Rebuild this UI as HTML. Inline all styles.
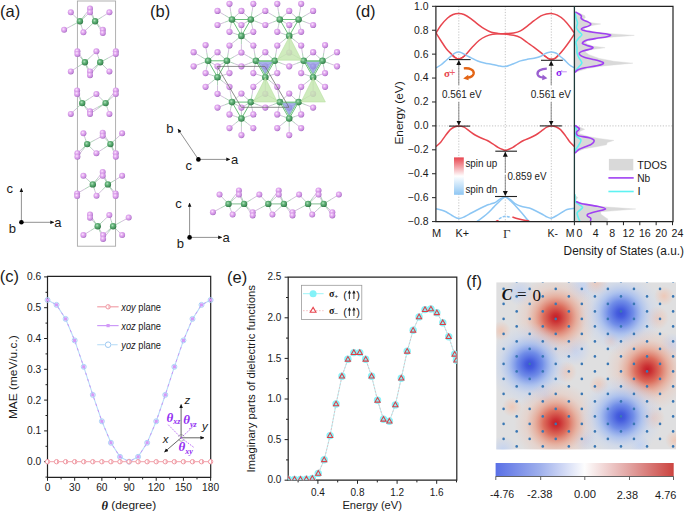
<!DOCTYPE html>
<html><head><meta charset="utf-8"><style>
html,body{margin:0;padding:0;background:#fff;}
svg{display:block;font-family:"Liberation Sans", sans-serif;}
</style></head><body>
<svg width="685" height="513" viewBox="0 0 685 513">
<rect width="685" height="513" fill="#fff"/>

<defs>
<radialGradient id="pk" cx="0.4" cy="0.38" r="0.62">
 <stop offset="0" stop-color="#fbeafd"/><stop offset="0.35" stop-color="#e6b0f2"/><stop offset="0.8" stop-color="#c98ade"/><stop offset="1" stop-color="#a46cc0"/>
</radialGradient>
<radialGradient id="gr" cx="0.4" cy="0.38" r="0.62">
 <stop offset="0" stop-color="#b2e2be"/><stop offset="0.4" stop-color="#63b379"/><stop offset="0.85" stop-color="#3f8f57"/><stop offset="1" stop-color="#307444"/>
</radialGradient>
<marker id="ah" viewBox="0 0 10 10" refX="9" refY="5" markerWidth="4" markerHeight="4" orient="auto-start-reverse" markerUnits="userSpaceOnUse">
 <path d="M0,0.5 L10,5 L0,9.5 Z" fill="#111"/>
</marker>
<marker id="ah2" viewBox="0 0 10 10" refX="9" refY="5" markerWidth="5" markerHeight="6" orient="auto-start-reverse" markerUnits="userSpaceOnUse">
 <path d="M0,0 L10,5 L0,10 Z" fill="#111"/>
</marker>
<linearGradient id="spin" x1="0" y1="0" x2="0" y2="1">
 <stop offset="0" stop-color="#e8454f"/><stop offset="0.5" stop-color="#ffffff"/><stop offset="1" stop-color="#8ec6f3"/>
</linearGradient>
<linearGradient id="cbar" x1="0" y1="0" x2="1" y2="0">
 <stop offset="0" stop-color="#5a70e6"/><stop offset="0.25" stop-color="#9fb0ec"/><stop offset="0.5" stop-color="#fdfdfd"/><stop offset="0.75" stop-color="#e2a4a2"/><stop offset="1" stop-color="#cc4440"/>
</linearGradient>
<radialGradient id="hr"><stop offset="0" stop-color="#c41c28"/><stop offset="0.1" stop-color="#cb3234"/><stop offset="0.3" stop-color="#dc6a58" stop-opacity="0.96"/><stop offset="0.5" stop-color="#e8a08a" stop-opacity="0.75"/><stop offset="0.72" stop-color="#ecc4b4" stop-opacity="0.42"/><stop offset="1" stop-color="#ecc8b8" stop-opacity="0"/></radialGradient>
<radialGradient id="hb"><stop offset="0" stop-color="#3c50d8"/><stop offset="0.1" stop-color="#465ede"/><stop offset="0.3" stop-color="#6c8ae8" stop-opacity="0.96"/><stop offset="0.5" stop-color="#9cb8f2" stop-opacity="0.75"/><stop offset="0.72" stop-color="#c0d2f2" stop-opacity="0.42"/><stop offset="1" stop-color="#c8d8f2" stop-opacity="0"/></radialGradient>
<radialGradient id="hr2"><stop offset="0" stop-color="#efc6b4" stop-opacity="0.9"/><stop offset="1" stop-color="#efc6b4" stop-opacity="0"/></radialGradient>
<radialGradient id="hb2"><stop offset="0" stop-color="#c2d2f2" stop-opacity="0.9"/><stop offset="1" stop-color="#c2d2f2" stop-opacity="0"/></radialGradient>
<clipPath id="clipD"><rect x="436" y="6.3" width="138.6" height="215.3"/></clipPath>
<clipPath id="clipE"><rect x="288.2" y="277.2" width="168.6" height="203"/></clipPath>
<clipPath id="clipF"><rect x="496.2" y="282.2" width="179.9" height="167.4"/></clipPath>
</defs>
<rect x="77.4" y="1" width="38.2" height="245.2" fill="none" stroke="#a8a8a8" stroke-width="0.9"/>
<g stroke-width="0.8"><line x1="79.9" y1="21.3" x2="75.35" y2="16.8" stroke="#9cc6a8"/><line x1="75.35" y1="16.8" x2="70.8" y2="12.3" stroke="#c6b0d2"/><line x1="79.9" y1="21.3" x2="84.95" y2="14.95" stroke="#9cc6a8"/><line x1="84.95" y1="14.95" x2="90" y2="8.6" stroke="#c6b0d2"/><line x1="79.9" y1="21.3" x2="84.95" y2="16.8" stroke="#9cc6a8"/><line x1="84.95" y1="16.8" x2="90" y2="12.3" stroke="#c6b0d2"/><line x1="79.9" y1="21.3" x2="72" y2="25.55" stroke="#9cc6a8"/><line x1="72" y1="25.55" x2="64.1" y2="29.8" stroke="#c6b0d2"/><line x1="79.9" y1="21.3" x2="81.65" y2="26.8" stroke="#9cc6a8"/><line x1="81.65" y1="26.8" x2="83.4" y2="32.3" stroke="#c6b0d2"/><line x1="95.1" y1="21.3" x2="92.55" y2="14.95" stroke="#9cc6a8"/><line x1="92.55" y1="14.95" x2="90" y2="8.6" stroke="#c6b0d2"/><line x1="95.1" y1="21.3" x2="92.55" y2="16.8" stroke="#9cc6a8"/><line x1="92.55" y1="16.8" x2="90" y2="12.3" stroke="#c6b0d2"/><line x1="95.1" y1="21.3" x2="102.25" y2="16.8" stroke="#9cc6a8"/><line x1="102.25" y1="16.8" x2="109.4" y2="12.3" stroke="#c6b0d2"/><line x1="95.1" y1="21.3" x2="89.25" y2="26.8" stroke="#9cc6a8"/><line x1="89.25" y1="26.8" x2="83.4" y2="32.3" stroke="#c6b0d2"/><line x1="95.1" y1="21.3" x2="98.95" y2="25.55" stroke="#9cc6a8"/><line x1="98.95" y1="25.55" x2="102.8" y2="29.8" stroke="#c6b0d2"/><line x1="95.1" y1="21.3" x2="98.95" y2="27.15" stroke="#9cc6a8"/><line x1="98.95" y1="27.15" x2="102.8" y2="33" stroke="#c6b0d2"/></g>
<g stroke-width="0.8"><line x1="84.9" y1="62.3" x2="81.15" y2="56.8" stroke="#9cc6a8"/><line x1="81.15" y1="56.8" x2="77.4" y2="51.3" stroke="#c6b0d2"/><line x1="84.9" y1="62.3" x2="81.15" y2="58.1" stroke="#9cc6a8"/><line x1="81.15" y1="58.1" x2="77.4" y2="53.9" stroke="#c6b0d2"/><line x1="84.9" y1="62.3" x2="90.65" y2="56.8" stroke="#9cc6a8"/><line x1="90.65" y1="56.8" x2="96.4" y2="51.3" stroke="#c6b0d2"/><line x1="84.9" y1="62.3" x2="77.85" y2="66.85" stroke="#9cc6a8"/><line x1="77.85" y1="66.85" x2="70.8" y2="71.4" stroke="#c6b0d2"/><line x1="84.9" y1="62.3" x2="87.45" y2="66.85" stroke="#9cc6a8"/><line x1="87.45" y1="66.85" x2="90" y2="71.4" stroke="#c6b0d2"/><line x1="84.9" y1="62.3" x2="87.45" y2="68.75" stroke="#9cc6a8"/><line x1="87.45" y1="68.75" x2="90" y2="75.2" stroke="#c6b0d2"/><line x1="100.2" y1="62.3" x2="98.3" y2="56.8" stroke="#9cc6a8"/><line x1="98.3" y1="56.8" x2="96.4" y2="51.3" stroke="#c6b0d2"/><line x1="100.2" y1="62.3" x2="108" y2="58.1" stroke="#9cc6a8"/><line x1="108" y1="58.1" x2="115.8" y2="53.9" stroke="#c6b0d2"/><line x1="100.2" y1="62.3" x2="95.1" y2="66.85" stroke="#9cc6a8"/><line x1="95.1" y1="66.85" x2="90" y2="71.4" stroke="#c6b0d2"/><line x1="100.2" y1="62.3" x2="95.1" y2="68.75" stroke="#9cc6a8"/><line x1="95.1" y1="68.75" x2="90" y2="75.2" stroke="#c6b0d2"/><line x1="100.2" y1="62.3" x2="104.8" y2="66.85" stroke="#9cc6a8"/><line x1="104.8" y1="66.85" x2="109.4" y2="71.4" stroke="#c6b0d2"/></g>
<g stroke-width="0.8"><line x1="82.2" y1="103.1" x2="79.65" y2="96.75" stroke="#9cc6a8"/><line x1="79.65" y1="96.75" x2="77.1" y2="90.4" stroke="#c6b0d2"/><line x1="82.2" y1="103.1" x2="79.65" y2="98.55" stroke="#9cc6a8"/><line x1="79.65" y1="98.55" x2="77.1" y2="94" stroke="#c6b0d2"/><line x1="82.2" y1="103.1" x2="89.3" y2="98.55" stroke="#9cc6a8"/><line x1="89.3" y1="98.55" x2="96.4" y2="94" stroke="#c6b0d2"/><line x1="82.2" y1="103.1" x2="76.5" y2="108.5" stroke="#9cc6a8"/><line x1="76.5" y1="108.5" x2="70.8" y2="113.9" stroke="#c6b0d2"/><line x1="82.2" y1="103.1" x2="86.1" y2="107.2" stroke="#9cc6a8"/><line x1="86.1" y1="107.2" x2="90" y2="111.3" stroke="#c6b0d2"/><line x1="82.2" y1="103.1" x2="86.1" y2="108.5" stroke="#9cc6a8"/><line x1="86.1" y1="108.5" x2="90" y2="113.9" stroke="#c6b0d2"/><line x1="105.6" y1="103.1" x2="101" y2="98.55" stroke="#9cc6a8"/><line x1="101" y1="98.55" x2="96.4" y2="94" stroke="#c6b0d2"/><line x1="105.6" y1="103.1" x2="110.7" y2="96.75" stroke="#9cc6a8"/><line x1="110.7" y1="96.75" x2="115.8" y2="90.4" stroke="#c6b0d2"/><line x1="105.6" y1="103.1" x2="110.7" y2="98.55" stroke="#9cc6a8"/><line x1="110.7" y1="98.55" x2="115.8" y2="94" stroke="#c6b0d2"/><line x1="105.6" y1="103.1" x2="97.8" y2="107.2" stroke="#9cc6a8"/><line x1="97.8" y1="107.2" x2="90" y2="111.3" stroke="#c6b0d2"/><line x1="105.6" y1="103.1" x2="97.8" y2="108.5" stroke="#9cc6a8"/><line x1="97.8" y1="108.5" x2="90" y2="113.9" stroke="#c6b0d2"/><line x1="105.6" y1="103.1" x2="107.5" y2="108.5" stroke="#9cc6a8"/><line x1="107.5" y1="108.5" x2="109.4" y2="113.9" stroke="#c6b0d2"/></g>
<g stroke-width="0.8"><line x1="87.2" y1="144.1" x2="85.3" y2="138.7" stroke="#9cc6a8"/><line x1="85.3" y1="138.7" x2="83.4" y2="133.3" stroke="#c6b0d2"/><line x1="87.2" y1="144.1" x2="94.95" y2="139.95" stroke="#9cc6a8"/><line x1="94.95" y1="139.95" x2="102.7" y2="135.8" stroke="#c6b0d2"/><line x1="87.2" y1="144.1" x2="82.3" y2="148.65" stroke="#9cc6a8"/><line x1="82.3" y1="148.65" x2="77.4" y2="153.2" stroke="#c6b0d2"/><line x1="87.2" y1="144.1" x2="82.3" y2="150.45" stroke="#9cc6a8"/><line x1="82.3" y1="150.45" x2="77.4" y2="156.8" stroke="#c6b0d2"/><line x1="87.2" y1="144.1" x2="91.8" y2="148.65" stroke="#9cc6a8"/><line x1="91.8" y1="148.65" x2="96.4" y2="153.2" stroke="#c6b0d2"/><line x1="110.4" y1="144.1" x2="106.55" y2="138.4" stroke="#9cc6a8"/><line x1="106.55" y1="138.4" x2="102.7" y2="132.7" stroke="#c6b0d2"/><line x1="110.4" y1="144.1" x2="106.55" y2="139.95" stroke="#9cc6a8"/><line x1="106.55" y1="139.95" x2="102.7" y2="135.8" stroke="#c6b0d2"/><line x1="110.4" y1="144.1" x2="116.25" y2="138.7" stroke="#9cc6a8"/><line x1="116.25" y1="138.7" x2="122.1" y2="133.3" stroke="#c6b0d2"/><line x1="110.4" y1="144.1" x2="103.4" y2="148.65" stroke="#9cc6a8"/><line x1="103.4" y1="148.65" x2="96.4" y2="153.2" stroke="#c6b0d2"/><line x1="110.4" y1="144.1" x2="113.1" y2="148.65" stroke="#9cc6a8"/><line x1="113.1" y1="148.65" x2="115.8" y2="153.2" stroke="#c6b0d2"/><line x1="110.4" y1="144.1" x2="113.1" y2="150.45" stroke="#9cc6a8"/><line x1="113.1" y1="150.45" x2="115.8" y2="156.8" stroke="#c6b0d2"/></g>
<g stroke-width="0.8"><line x1="92.8" y1="184.4" x2="88.1" y2="180.1" stroke="#9cc6a8"/><line x1="88.1" y1="180.1" x2="83.4" y2="175.8" stroke="#c6b0d2"/><line x1="92.8" y1="184.4" x2="97.75" y2="178.2" stroke="#9cc6a8"/><line x1="97.75" y1="178.2" x2="102.7" y2="172" stroke="#c6b0d2"/><line x1="92.8" y1="184.4" x2="97.75" y2="180.1" stroke="#9cc6a8"/><line x1="97.75" y1="180.1" x2="102.7" y2="175.8" stroke="#c6b0d2"/><line x1="92.8" y1="184.4" x2="84.95" y2="188.95" stroke="#9cc6a8"/><line x1="84.95" y1="188.95" x2="77.1" y2="193.5" stroke="#c6b0d2"/><line x1="92.8" y1="184.4" x2="94.65" y2="190.1" stroke="#9cc6a8"/><line x1="94.65" y1="190.1" x2="96.5" y2="195.8" stroke="#c6b0d2"/><line x1="107.9" y1="184.4" x2="105.3" y2="178.2" stroke="#9cc6a8"/><line x1="105.3" y1="178.2" x2="102.7" y2="172" stroke="#c6b0d2"/><line x1="107.9" y1="184.4" x2="105.3" y2="180.1" stroke="#9cc6a8"/><line x1="105.3" y1="180.1" x2="102.7" y2="175.8" stroke="#c6b0d2"/><line x1="107.9" y1="184.4" x2="115" y2="180.1" stroke="#9cc6a8"/><line x1="115" y1="180.1" x2="122.1" y2="175.8" stroke="#c6b0d2"/><line x1="107.9" y1="184.4" x2="102.2" y2="190.1" stroke="#9cc6a8"/><line x1="102.2" y1="190.1" x2="96.5" y2="195.8" stroke="#c6b0d2"/><line x1="107.9" y1="184.4" x2="111.75" y2="188.95" stroke="#9cc6a8"/><line x1="111.75" y1="188.95" x2="115.6" y2="193.5" stroke="#c6b0d2"/><line x1="107.9" y1="184.4" x2="111.75" y2="190.25" stroke="#9cc6a8"/><line x1="111.75" y1="190.25" x2="115.6" y2="196.1" stroke="#c6b0d2"/></g>
<g stroke-width="0.8"><line x1="97.7" y1="226.2" x2="93.85" y2="220.4" stroke="#9cc6a8"/><line x1="93.85" y1="220.4" x2="90" y2="214.6" stroke="#c6b0d2"/><line x1="97.7" y1="226.2" x2="93.85" y2="221.95" stroke="#9cc6a8"/><line x1="93.85" y1="221.95" x2="90" y2="217.7" stroke="#c6b0d2"/><line x1="97.7" y1="226.2" x2="103.5" y2="220.65" stroke="#9cc6a8"/><line x1="103.5" y1="220.65" x2="109.3" y2="215.1" stroke="#c6b0d2"/><line x1="97.7" y1="226.2" x2="90.55" y2="230.65" stroke="#9cc6a8"/><line x1="90.55" y1="230.65" x2="83.4" y2="235.1" stroke="#c6b0d2"/><line x1="97.7" y1="226.2" x2="100.4" y2="230.65" stroke="#9cc6a8"/><line x1="100.4" y1="230.65" x2="103.1" y2="235.1" stroke="#c6b0d2"/><line x1="97.7" y1="226.2" x2="100.4" y2="232.55" stroke="#9cc6a8"/><line x1="100.4" y1="232.55" x2="103.1" y2="238.9" stroke="#c6b0d2"/><line x1="113.1" y1="226.2" x2="111.2" y2="220.65" stroke="#9cc6a8"/><line x1="111.2" y1="220.65" x2="109.3" y2="215.1" stroke="#c6b0d2"/><line x1="113.1" y1="226.2" x2="120.9" y2="221.9" stroke="#9cc6a8"/><line x1="120.9" y1="221.9" x2="128.7" y2="217.6" stroke="#c6b0d2"/><line x1="113.1" y1="226.2" x2="108.1" y2="230.65" stroke="#9cc6a8"/><line x1="108.1" y1="230.65" x2="103.1" y2="235.1" stroke="#c6b0d2"/><line x1="113.1" y1="226.2" x2="108.1" y2="232.55" stroke="#9cc6a8"/><line x1="108.1" y1="232.55" x2="103.1" y2="238.9" stroke="#c6b0d2"/><line x1="113.1" y1="226.2" x2="117.6" y2="230.65" stroke="#9cc6a8"/><line x1="117.6" y1="230.65" x2="122.1" y2="235.1" stroke="#c6b0d2"/></g>
<circle cx="90" cy="8.6" r="3" fill="url(#pk)"/><circle cx="70.8" cy="12.3" r="3" fill="url(#pk)"/><circle cx="90" cy="12.3" r="3" fill="url(#pk)"/><circle cx="109.4" cy="12.3" r="3" fill="url(#pk)"/><circle cx="79.9" cy="21.3" r="3.2" fill="url(#gr)"/><circle cx="95.1" cy="21.3" r="3.2" fill="url(#gr)"/><circle cx="64.1" cy="29.8" r="3" fill="url(#pk)"/><circle cx="102.8" cy="29.8" r="3" fill="url(#pk)"/><circle cx="83.4" cy="32.3" r="3" fill="url(#pk)"/><circle cx="102.8" cy="33" r="3" fill="url(#pk)"/>
<circle cx="77.4" cy="51.3" r="3" fill="url(#pk)"/><circle cx="96.4" cy="51.3" r="3" fill="url(#pk)"/><circle cx="115.8" cy="51.3" r="3" fill="url(#pk)"/><circle cx="77.4" cy="53.9" r="3" fill="url(#pk)"/><circle cx="115.8" cy="53.9" r="3" fill="url(#pk)"/><circle cx="84.9" cy="62.3" r="3.2" fill="url(#gr)"/><circle cx="100.2" cy="62.3" r="3.2" fill="url(#gr)"/><circle cx="70.8" cy="71.4" r="3" fill="url(#pk)"/><circle cx="90" cy="71.4" r="3" fill="url(#pk)"/><circle cx="109.4" cy="71.4" r="3" fill="url(#pk)"/><circle cx="90" cy="75.2" r="3" fill="url(#pk)"/>
<circle cx="77.1" cy="90.4" r="3" fill="url(#pk)"/><circle cx="115.8" cy="90.4" r="3" fill="url(#pk)"/><circle cx="77.1" cy="94" r="3" fill="url(#pk)"/><circle cx="96.4" cy="94" r="3" fill="url(#pk)"/><circle cx="115.8" cy="94" r="3" fill="url(#pk)"/><circle cx="82.2" cy="103.1" r="3.2" fill="url(#gr)"/><circle cx="105.6" cy="103.1" r="3.2" fill="url(#gr)"/><circle cx="90" cy="111.3" r="3" fill="url(#pk)"/><circle cx="70.8" cy="113.9" r="3" fill="url(#pk)"/><circle cx="90" cy="113.9" r="3" fill="url(#pk)"/><circle cx="109.4" cy="113.9" r="3" fill="url(#pk)"/>
<circle cx="102.7" cy="132.7" r="3" fill="url(#pk)"/><circle cx="83.4" cy="133.3" r="3" fill="url(#pk)"/><circle cx="122.1" cy="133.3" r="3" fill="url(#pk)"/><circle cx="102.7" cy="135.8" r="3" fill="url(#pk)"/><circle cx="87.2" cy="144.1" r="3.2" fill="url(#gr)"/><circle cx="110.4" cy="144.1" r="3.2" fill="url(#gr)"/><circle cx="77.4" cy="153.2" r="3" fill="url(#pk)"/><circle cx="96.4" cy="153.2" r="3" fill="url(#pk)"/><circle cx="115.8" cy="153.2" r="3" fill="url(#pk)"/><circle cx="77.4" cy="156.8" r="3" fill="url(#pk)"/><circle cx="115.8" cy="156.8" r="3" fill="url(#pk)"/>
<circle cx="102.7" cy="172" r="3" fill="url(#pk)"/><circle cx="83.4" cy="175.8" r="3" fill="url(#pk)"/><circle cx="102.7" cy="175.8" r="3" fill="url(#pk)"/><circle cx="122.1" cy="175.8" r="3" fill="url(#pk)"/><circle cx="92.8" cy="184.4" r="3.2" fill="url(#gr)"/><circle cx="107.9" cy="184.4" r="3.2" fill="url(#gr)"/><circle cx="77.1" cy="193.5" r="3" fill="url(#pk)"/><circle cx="115.6" cy="193.5" r="3" fill="url(#pk)"/><circle cx="96.5" cy="195.8" r="3" fill="url(#pk)"/><circle cx="77.1" cy="196.1" r="3" fill="url(#pk)"/><circle cx="115.6" cy="196.1" r="3" fill="url(#pk)"/>
<circle cx="90" cy="214.6" r="3" fill="url(#pk)"/><circle cx="109.3" cy="215.1" r="3" fill="url(#pk)"/><circle cx="128.7" cy="217.6" r="3" fill="url(#pk)"/><circle cx="90" cy="217.7" r="3" fill="url(#pk)"/><circle cx="97.7" cy="226.2" r="3.2" fill="url(#gr)"/><circle cx="113.1" cy="226.2" r="3.2" fill="url(#gr)"/><circle cx="83.4" cy="235.1" r="3" fill="url(#pk)"/><circle cx="103.1" cy="235.1" r="3" fill="url(#pk)"/><circle cx="122.1" cy="235.1" r="3" fill="url(#pk)"/><circle cx="103.1" cy="238.9" r="3" fill="url(#pk)"/>
<g stroke-width="0.8"><line x1="232" y1="19.5" x2="230.73" y2="11.65" stroke="#9cc6a8"/><line x1="230.73" y1="11.65" x2="229.45" y2="3.8" stroke="#c6b0d2"/><line x1="232" y1="19.5" x2="224.75" y2="15.2" stroke="#9cc6a8"/><line x1="224.75" y1="15.2" x2="217.5" y2="10.9" stroke="#c6b0d2"/><line x1="232" y1="19.5" x2="224.75" y2="22.25" stroke="#9cc6a8"/><line x1="224.75" y1="22.25" x2="217.5" y2="25" stroke="#c6b0d2"/><line x1="232" y1="19.5" x2="230.73" y2="25.65" stroke="#9cc6a8"/><line x1="230.73" y1="25.65" x2="229.45" y2="31.8" stroke="#c6b0d2"/><line x1="232" y1="19.5" x2="236.7" y2="15.2" stroke="#9cc6a8"/><line x1="236.7" y1="15.2" x2="241.4" y2="10.9" stroke="#c6b0d2"/><line x1="232" y1="19.5" x2="236.7" y2="22.25" stroke="#9cc6a8"/><line x1="236.7" y1="22.25" x2="241.4" y2="25" stroke="#c6b0d2"/><line x1="250.8" y1="19.5" x2="252.07" y2="11.65" stroke="#9cc6a8"/><line x1="252.07" y1="11.65" x2="253.35" y2="3.8" stroke="#c6b0d2"/><line x1="250.8" y1="19.5" x2="258.05" y2="15.2" stroke="#9cc6a8"/><line x1="258.05" y1="15.2" x2="265.3" y2="10.9" stroke="#c6b0d2"/><line x1="250.8" y1="19.5" x2="258.05" y2="22.25" stroke="#9cc6a8"/><line x1="258.05" y1="22.25" x2="265.3" y2="25" stroke="#c6b0d2"/><line x1="250.8" y1="19.5" x2="252.07" y2="25.65" stroke="#9cc6a8"/><line x1="252.07" y1="25.65" x2="253.35" y2="31.8" stroke="#c6b0d2"/><line x1="250.8" y1="19.5" x2="246.1" y2="15.2" stroke="#9cc6a8"/><line x1="246.1" y1="15.2" x2="241.4" y2="10.9" stroke="#c6b0d2"/><line x1="250.8" y1="19.5" x2="246.1" y2="22.25" stroke="#9cc6a8"/><line x1="246.1" y1="22.25" x2="241.4" y2="25" stroke="#c6b0d2"/><line x1="241.4" y1="35.9" x2="235.43" y2="33.85" stroke="#9cc6a8"/><line x1="235.43" y1="33.85" x2="229.45" y2="31.8" stroke="#c6b0d2"/><line x1="241.4" y1="35.9" x2="247.38" y2="33.85" stroke="#9cc6a8"/><line x1="247.38" y1="33.85" x2="253.35" y2="31.8" stroke="#c6b0d2"/><line x1="241.4" y1="35.9" x2="235.43" y2="40.7" stroke="#9cc6a8"/><line x1="235.43" y1="40.7" x2="229.45" y2="45.5" stroke="#c6b0d2"/><line x1="241.4" y1="35.9" x2="247.38" y2="40.7" stroke="#9cc6a8"/><line x1="247.38" y1="40.7" x2="253.35" y2="45.5" stroke="#c6b0d2"/><line x1="241.4" y1="35.9" x2="241.4" y2="44.2" stroke="#9cc6a8"/><line x1="241.4" y1="44.2" x2="241.4" y2="52.5" stroke="#c6b0d2"/><line x1="241.4" y1="35.9" x2="241.4" y2="30.45" stroke="#9cc6a8"/><line x1="241.4" y1="30.45" x2="241.4" y2="25" stroke="#c6b0d2"/><line x1="279.8" y1="19.5" x2="278.52" y2="11.65" stroke="#9cc6a8"/><line x1="278.52" y1="11.65" x2="277.25" y2="3.8" stroke="#c6b0d2"/><line x1="279.8" y1="19.5" x2="272.55" y2="15.2" stroke="#9cc6a8"/><line x1="272.55" y1="15.2" x2="265.3" y2="10.9" stroke="#c6b0d2"/><line x1="279.8" y1="19.5" x2="272.55" y2="22.25" stroke="#9cc6a8"/><line x1="272.55" y1="22.25" x2="265.3" y2="25" stroke="#c6b0d2"/><line x1="279.8" y1="19.5" x2="278.52" y2="25.65" stroke="#9cc6a8"/><line x1="278.52" y1="25.65" x2="277.25" y2="31.8" stroke="#c6b0d2"/><line x1="279.8" y1="19.5" x2="284.5" y2="15.2" stroke="#9cc6a8"/><line x1="284.5" y1="15.2" x2="289.2" y2="10.9" stroke="#c6b0d2"/><line x1="279.8" y1="19.5" x2="284.5" y2="22.25" stroke="#9cc6a8"/><line x1="284.5" y1="22.25" x2="289.2" y2="25" stroke="#c6b0d2"/><line x1="298.6" y1="19.5" x2="299.88" y2="11.65" stroke="#9cc6a8"/><line x1="299.88" y1="11.65" x2="301.15" y2="3.8" stroke="#c6b0d2"/><line x1="298.6" y1="19.5" x2="305.85" y2="15.2" stroke="#9cc6a8"/><line x1="305.85" y1="15.2" x2="313.1" y2="10.9" stroke="#c6b0d2"/><line x1="298.6" y1="19.5" x2="305.85" y2="22.25" stroke="#9cc6a8"/><line x1="305.85" y1="22.25" x2="313.1" y2="25" stroke="#c6b0d2"/><line x1="298.6" y1="19.5" x2="299.88" y2="25.65" stroke="#9cc6a8"/><line x1="299.88" y1="25.65" x2="301.15" y2="31.8" stroke="#c6b0d2"/><line x1="298.6" y1="19.5" x2="293.9" y2="15.2" stroke="#9cc6a8"/><line x1="293.9" y1="15.2" x2="289.2" y2="10.9" stroke="#c6b0d2"/><line x1="298.6" y1="19.5" x2="293.9" y2="22.25" stroke="#9cc6a8"/><line x1="293.9" y1="22.25" x2="289.2" y2="25" stroke="#c6b0d2"/><line x1="289.2" y1="35.9" x2="283.23" y2="33.85" stroke="#9cc6a8"/><line x1="283.23" y1="33.85" x2="277.25" y2="31.8" stroke="#c6b0d2"/><line x1="289.2" y1="35.9" x2="295.17" y2="33.85" stroke="#9cc6a8"/><line x1="295.17" y1="33.85" x2="301.15" y2="31.8" stroke="#c6b0d2"/><line x1="289.2" y1="35.9" x2="283.23" y2="40.7" stroke="#9cc6a8"/><line x1="283.23" y1="40.7" x2="277.25" y2="45.5" stroke="#c6b0d2"/><line x1="289.2" y1="35.9" x2="295.17" y2="40.7" stroke="#9cc6a8"/><line x1="295.17" y1="40.7" x2="301.15" y2="45.5" stroke="#c6b0d2"/><line x1="289.2" y1="35.9" x2="289.2" y2="44.2" stroke="#9cc6a8"/><line x1="289.2" y1="44.2" x2="289.2" y2="52.5" stroke="#c6b0d2"/><line x1="289.2" y1="35.9" x2="289.2" y2="30.45" stroke="#9cc6a8"/><line x1="289.2" y1="30.45" x2="289.2" y2="25" stroke="#c6b0d2"/><line x1="208.1" y1="60.8" x2="206.82" y2="52.95" stroke="#9cc6a8"/><line x1="206.82" y1="52.95" x2="205.55" y2="45.1" stroke="#c6b0d2"/><line x1="208.1" y1="60.8" x2="200.85" y2="56.5" stroke="#9cc6a8"/><line x1="200.85" y1="56.5" x2="193.6" y2="52.2" stroke="#c6b0d2"/><line x1="208.1" y1="60.8" x2="200.85" y2="63.55" stroke="#9cc6a8"/><line x1="200.85" y1="63.55" x2="193.6" y2="66.3" stroke="#c6b0d2"/><line x1="208.1" y1="60.8" x2="206.82" y2="66.95" stroke="#9cc6a8"/><line x1="206.82" y1="66.95" x2="205.55" y2="73.1" stroke="#c6b0d2"/><line x1="208.1" y1="60.8" x2="212.8" y2="56.5" stroke="#9cc6a8"/><line x1="212.8" y1="56.5" x2="217.5" y2="52.2" stroke="#c6b0d2"/><line x1="208.1" y1="60.8" x2="212.8" y2="63.55" stroke="#9cc6a8"/><line x1="212.8" y1="63.55" x2="217.5" y2="66.3" stroke="#c6b0d2"/><line x1="226.9" y1="60.8" x2="228.18" y2="53.15" stroke="#9cc6a8"/><line x1="228.18" y1="53.15" x2="229.45" y2="45.5" stroke="#c6b0d2"/><line x1="226.9" y1="60.8" x2="234.15" y2="56.65" stroke="#9cc6a8"/><line x1="234.15" y1="56.65" x2="241.4" y2="52.5" stroke="#c6b0d2"/><line x1="226.9" y1="60.8" x2="234.15" y2="63.55" stroke="#9cc6a8"/><line x1="234.15" y1="63.55" x2="241.4" y2="66.3" stroke="#c6b0d2"/><line x1="226.9" y1="60.8" x2="228.18" y2="66.95" stroke="#9cc6a8"/><line x1="228.18" y1="66.95" x2="229.45" y2="73.1" stroke="#c6b0d2"/><line x1="226.9" y1="60.8" x2="222.2" y2="56.5" stroke="#9cc6a8"/><line x1="222.2" y1="56.5" x2="217.5" y2="52.2" stroke="#c6b0d2"/><line x1="226.9" y1="60.8" x2="222.2" y2="63.55" stroke="#9cc6a8"/><line x1="222.2" y1="63.55" x2="217.5" y2="66.3" stroke="#c6b0d2"/><line x1="217.5" y1="77.2" x2="211.53" y2="75.15" stroke="#9cc6a8"/><line x1="211.53" y1="75.15" x2="205.55" y2="73.1" stroke="#c6b0d2"/><line x1="217.5" y1="77.2" x2="223.47" y2="75.15" stroke="#9cc6a8"/><line x1="223.47" y1="75.15" x2="229.45" y2="73.1" stroke="#c6b0d2"/><line x1="217.5" y1="77.2" x2="211.53" y2="82" stroke="#9cc6a8"/><line x1="211.53" y1="82" x2="205.55" y2="86.8" stroke="#c6b0d2"/><line x1="217.5" y1="77.2" x2="223.47" y2="82" stroke="#9cc6a8"/><line x1="223.47" y1="82" x2="229.45" y2="86.8" stroke="#c6b0d2"/><line x1="217.5" y1="77.2" x2="217.5" y2="85.5" stroke="#9cc6a8"/><line x1="217.5" y1="85.5" x2="217.5" y2="93.8" stroke="#c6b0d2"/><line x1="217.5" y1="77.2" x2="217.5" y2="71.75" stroke="#9cc6a8"/><line x1="217.5" y1="71.75" x2="217.5" y2="66.3" stroke="#c6b0d2"/><line x1="255.9" y1="60.8" x2="254.62" y2="53.15" stroke="#9cc6a8"/><line x1="254.62" y1="53.15" x2="253.35" y2="45.5" stroke="#c6b0d2"/><line x1="255.9" y1="60.8" x2="248.65" y2="56.65" stroke="#9cc6a8"/><line x1="248.65" y1="56.65" x2="241.4" y2="52.5" stroke="#c6b0d2"/><line x1="255.9" y1="60.8" x2="248.65" y2="63.55" stroke="#9cc6a8"/><line x1="248.65" y1="63.55" x2="241.4" y2="66.3" stroke="#c6b0d2"/><line x1="255.9" y1="60.8" x2="254.62" y2="66.95" stroke="#9cc6a8"/><line x1="254.62" y1="66.95" x2="253.35" y2="73.1" stroke="#c6b0d2"/><line x1="255.9" y1="60.8" x2="260.6" y2="56.5" stroke="#9cc6a8"/><line x1="260.6" y1="56.5" x2="265.3" y2="52.2" stroke="#c6b0d2"/><line x1="255.9" y1="60.8" x2="260.6" y2="63.55" stroke="#9cc6a8"/><line x1="260.6" y1="63.55" x2="265.3" y2="66.3" stroke="#c6b0d2"/><line x1="274.7" y1="60.8" x2="275.98" y2="53.15" stroke="#9cc6a8"/><line x1="275.98" y1="53.15" x2="277.25" y2="45.5" stroke="#c6b0d2"/><line x1="274.7" y1="60.8" x2="281.95" y2="56.65" stroke="#9cc6a8"/><line x1="281.95" y1="56.65" x2="289.2" y2="52.5" stroke="#c6b0d2"/><line x1="274.7" y1="60.8" x2="281.95" y2="63.55" stroke="#9cc6a8"/><line x1="281.95" y1="63.55" x2="289.2" y2="66.3" stroke="#c6b0d2"/><line x1="274.7" y1="60.8" x2="275.98" y2="66.95" stroke="#9cc6a8"/><line x1="275.98" y1="66.95" x2="277.25" y2="73.1" stroke="#c6b0d2"/><line x1="274.7" y1="60.8" x2="270" y2="56.5" stroke="#9cc6a8"/><line x1="270" y1="56.5" x2="265.3" y2="52.2" stroke="#c6b0d2"/><line x1="274.7" y1="60.8" x2="270" y2="63.55" stroke="#9cc6a8"/><line x1="270" y1="63.55" x2="265.3" y2="66.3" stroke="#c6b0d2"/><line x1="265.3" y1="77.2" x2="259.33" y2="75.15" stroke="#9cc6a8"/><line x1="259.33" y1="75.15" x2="253.35" y2="73.1" stroke="#c6b0d2"/><line x1="265.3" y1="77.2" x2="271.27" y2="75.15" stroke="#9cc6a8"/><line x1="271.27" y1="75.15" x2="277.25" y2="73.1" stroke="#c6b0d2"/><line x1="265.3" y1="77.2" x2="259.33" y2="82" stroke="#9cc6a8"/><line x1="259.33" y1="82" x2="253.35" y2="86.8" stroke="#c6b0d2"/><line x1="265.3" y1="77.2" x2="271.27" y2="82" stroke="#9cc6a8"/><line x1="271.27" y1="82" x2="277.25" y2="86.8" stroke="#c6b0d2"/><line x1="265.3" y1="77.2" x2="265.3" y2="85.5" stroke="#9cc6a8"/><line x1="265.3" y1="85.5" x2="265.3" y2="93.8" stroke="#c6b0d2"/><line x1="265.3" y1="77.2" x2="265.3" y2="71.75" stroke="#9cc6a8"/><line x1="265.3" y1="71.75" x2="265.3" y2="66.3" stroke="#c6b0d2"/><line x1="303.7" y1="60.8" x2="302.43" y2="53.15" stroke="#9cc6a8"/><line x1="302.43" y1="53.15" x2="301.15" y2="45.5" stroke="#c6b0d2"/><line x1="303.7" y1="60.8" x2="296.45" y2="56.65" stroke="#9cc6a8"/><line x1="296.45" y1="56.65" x2="289.2" y2="52.5" stroke="#c6b0d2"/><line x1="303.7" y1="60.8" x2="296.45" y2="63.55" stroke="#9cc6a8"/><line x1="296.45" y1="63.55" x2="289.2" y2="66.3" stroke="#c6b0d2"/><line x1="303.7" y1="60.8" x2="302.43" y2="66.95" stroke="#9cc6a8"/><line x1="302.43" y1="66.95" x2="301.15" y2="73.1" stroke="#c6b0d2"/><line x1="303.7" y1="60.8" x2="308.4" y2="56.5" stroke="#9cc6a8"/><line x1="308.4" y1="56.5" x2="313.1" y2="52.2" stroke="#c6b0d2"/><line x1="303.7" y1="60.8" x2="308.4" y2="63.55" stroke="#9cc6a8"/><line x1="308.4" y1="63.55" x2="313.1" y2="66.3" stroke="#c6b0d2"/><line x1="322.5" y1="60.8" x2="323.77" y2="52.95" stroke="#9cc6a8"/><line x1="323.77" y1="52.95" x2="325.05" y2="45.1" stroke="#c6b0d2"/><line x1="322.5" y1="60.8" x2="329.75" y2="56.5" stroke="#9cc6a8"/><line x1="329.75" y1="56.5" x2="337" y2="52.2" stroke="#c6b0d2"/><line x1="322.5" y1="60.8" x2="329.75" y2="63.55" stroke="#9cc6a8"/><line x1="329.75" y1="63.55" x2="337" y2="66.3" stroke="#c6b0d2"/><line x1="322.5" y1="60.8" x2="323.77" y2="66.95" stroke="#9cc6a8"/><line x1="323.77" y1="66.95" x2="325.05" y2="73.1" stroke="#c6b0d2"/><line x1="322.5" y1="60.8" x2="317.8" y2="56.5" stroke="#9cc6a8"/><line x1="317.8" y1="56.5" x2="313.1" y2="52.2" stroke="#c6b0d2"/><line x1="322.5" y1="60.8" x2="317.8" y2="63.55" stroke="#9cc6a8"/><line x1="317.8" y1="63.55" x2="313.1" y2="66.3" stroke="#c6b0d2"/><line x1="313.1" y1="77.2" x2="307.12" y2="75.15" stroke="#9cc6a8"/><line x1="307.12" y1="75.15" x2="301.15" y2="73.1" stroke="#c6b0d2"/><line x1="313.1" y1="77.2" x2="319.08" y2="75.15" stroke="#9cc6a8"/><line x1="319.08" y1="75.15" x2="325.05" y2="73.1" stroke="#c6b0d2"/><line x1="313.1" y1="77.2" x2="307.12" y2="82" stroke="#9cc6a8"/><line x1="307.12" y1="82" x2="301.15" y2="86.8" stroke="#c6b0d2"/><line x1="313.1" y1="77.2" x2="319.08" y2="82" stroke="#9cc6a8"/><line x1="319.08" y1="82" x2="325.05" y2="86.8" stroke="#c6b0d2"/><line x1="313.1" y1="77.2" x2="313.1" y2="85.5" stroke="#9cc6a8"/><line x1="313.1" y1="85.5" x2="313.1" y2="93.8" stroke="#c6b0d2"/><line x1="313.1" y1="77.2" x2="313.1" y2="71.75" stroke="#9cc6a8"/><line x1="313.1" y1="71.75" x2="313.1" y2="66.3" stroke="#c6b0d2"/><line x1="232" y1="102.1" x2="230.72" y2="94.45" stroke="#9cc6a8"/><line x1="230.72" y1="94.45" x2="229.45" y2="86.8" stroke="#c6b0d2"/><line x1="232" y1="102.1" x2="224.75" y2="97.95" stroke="#9cc6a8"/><line x1="224.75" y1="97.95" x2="217.5" y2="93.8" stroke="#c6b0d2"/><line x1="232" y1="102.1" x2="224.75" y2="104.85" stroke="#9cc6a8"/><line x1="224.75" y1="104.85" x2="217.5" y2="107.6" stroke="#c6b0d2"/><line x1="232" y1="102.1" x2="230.73" y2="108.25" stroke="#9cc6a8"/><line x1="230.73" y1="108.25" x2="229.45" y2="114.4" stroke="#c6b0d2"/><line x1="232" y1="102.1" x2="236.7" y2="97.8" stroke="#9cc6a8"/><line x1="236.7" y1="97.8" x2="241.4" y2="93.5" stroke="#c6b0d2"/><line x1="232" y1="102.1" x2="236.7" y2="104.85" stroke="#9cc6a8"/><line x1="236.7" y1="104.85" x2="241.4" y2="107.6" stroke="#c6b0d2"/><line x1="250.8" y1="102.1" x2="252.08" y2="94.45" stroke="#9cc6a8"/><line x1="252.08" y1="94.45" x2="253.35" y2="86.8" stroke="#c6b0d2"/><line x1="250.8" y1="102.1" x2="258.05" y2="97.95" stroke="#9cc6a8"/><line x1="258.05" y1="97.95" x2="265.3" y2="93.8" stroke="#c6b0d2"/><line x1="250.8" y1="102.1" x2="258.05" y2="104.85" stroke="#9cc6a8"/><line x1="258.05" y1="104.85" x2="265.3" y2="107.6" stroke="#c6b0d2"/><line x1="250.8" y1="102.1" x2="252.07" y2="108.25" stroke="#9cc6a8"/><line x1="252.07" y1="108.25" x2="253.35" y2="114.4" stroke="#c6b0d2"/><line x1="250.8" y1="102.1" x2="246.1" y2="97.8" stroke="#9cc6a8"/><line x1="246.1" y1="97.8" x2="241.4" y2="93.5" stroke="#c6b0d2"/><line x1="250.8" y1="102.1" x2="246.1" y2="104.85" stroke="#9cc6a8"/><line x1="246.1" y1="104.85" x2="241.4" y2="107.6" stroke="#c6b0d2"/><line x1="241.4" y1="118.5" x2="235.43" y2="116.45" stroke="#9cc6a8"/><line x1="235.43" y1="116.45" x2="229.45" y2="114.4" stroke="#c6b0d2"/><line x1="241.4" y1="118.5" x2="247.38" y2="116.45" stroke="#9cc6a8"/><line x1="247.38" y1="116.45" x2="253.35" y2="114.4" stroke="#c6b0d2"/><line x1="241.4" y1="118.5" x2="235.43" y2="123.3" stroke="#9cc6a8"/><line x1="235.43" y1="123.3" x2="229.45" y2="128.1" stroke="#c6b0d2"/><line x1="241.4" y1="118.5" x2="247.38" y2="123.3" stroke="#9cc6a8"/><line x1="247.38" y1="123.3" x2="253.35" y2="128.1" stroke="#c6b0d2"/><line x1="241.4" y1="118.5" x2="241.4" y2="126.8" stroke="#9cc6a8"/><line x1="241.4" y1="126.8" x2="241.4" y2="135.1" stroke="#c6b0d2"/><line x1="241.4" y1="118.5" x2="241.4" y2="113.05" stroke="#9cc6a8"/><line x1="241.4" y1="113.05" x2="241.4" y2="107.6" stroke="#c6b0d2"/><line x1="279.8" y1="102.1" x2="278.52" y2="94.45" stroke="#9cc6a8"/><line x1="278.52" y1="94.45" x2="277.25" y2="86.8" stroke="#c6b0d2"/><line x1="279.8" y1="102.1" x2="272.55" y2="97.95" stroke="#9cc6a8"/><line x1="272.55" y1="97.95" x2="265.3" y2="93.8" stroke="#c6b0d2"/><line x1="279.8" y1="102.1" x2="272.55" y2="104.85" stroke="#9cc6a8"/><line x1="272.55" y1="104.85" x2="265.3" y2="107.6" stroke="#c6b0d2"/><line x1="279.8" y1="102.1" x2="278.52" y2="108.25" stroke="#9cc6a8"/><line x1="278.52" y1="108.25" x2="277.25" y2="114.4" stroke="#c6b0d2"/><line x1="279.8" y1="102.1" x2="284.5" y2="97.8" stroke="#9cc6a8"/><line x1="284.5" y1="97.8" x2="289.2" y2="93.5" stroke="#c6b0d2"/><line x1="279.8" y1="102.1" x2="284.5" y2="104.85" stroke="#9cc6a8"/><line x1="284.5" y1="104.85" x2="289.2" y2="107.6" stroke="#c6b0d2"/><line x1="298.6" y1="102.1" x2="299.88" y2="94.45" stroke="#9cc6a8"/><line x1="299.88" y1="94.45" x2="301.15" y2="86.8" stroke="#c6b0d2"/><line x1="298.6" y1="102.1" x2="305.85" y2="97.95" stroke="#9cc6a8"/><line x1="305.85" y1="97.95" x2="313.1" y2="93.8" stroke="#c6b0d2"/><line x1="298.6" y1="102.1" x2="305.85" y2="104.85" stroke="#9cc6a8"/><line x1="305.85" y1="104.85" x2="313.1" y2="107.6" stroke="#c6b0d2"/><line x1="298.6" y1="102.1" x2="299.88" y2="108.25" stroke="#9cc6a8"/><line x1="299.88" y1="108.25" x2="301.15" y2="114.4" stroke="#c6b0d2"/><line x1="298.6" y1="102.1" x2="293.9" y2="97.8" stroke="#9cc6a8"/><line x1="293.9" y1="97.8" x2="289.2" y2="93.5" stroke="#c6b0d2"/><line x1="298.6" y1="102.1" x2="293.9" y2="104.85" stroke="#9cc6a8"/><line x1="293.9" y1="104.85" x2="289.2" y2="107.6" stroke="#c6b0d2"/><line x1="289.2" y1="118.5" x2="283.23" y2="116.45" stroke="#9cc6a8"/><line x1="283.23" y1="116.45" x2="277.25" y2="114.4" stroke="#c6b0d2"/><line x1="289.2" y1="118.5" x2="295.17" y2="116.45" stroke="#9cc6a8"/><line x1="295.17" y1="116.45" x2="301.15" y2="114.4" stroke="#c6b0d2"/><line x1="289.2" y1="118.5" x2="283.23" y2="123.3" stroke="#9cc6a8"/><line x1="283.23" y1="123.3" x2="277.25" y2="128.1" stroke="#c6b0d2"/><line x1="289.2" y1="118.5" x2="295.17" y2="123.3" stroke="#9cc6a8"/><line x1="295.17" y1="123.3" x2="301.15" y2="128.1" stroke="#c6b0d2"/><line x1="289.2" y1="118.5" x2="289.2" y2="126.8" stroke="#9cc6a8"/><line x1="289.2" y1="126.8" x2="289.2" y2="135.1" stroke="#c6b0d2"/><line x1="289.2" y1="118.5" x2="289.2" y2="113.05" stroke="#9cc6a8"/><line x1="289.2" y1="113.05" x2="289.2" y2="107.6" stroke="#c6b0d2"/></g>
<g stroke="#6cc07c" stroke-width="1" fill="none"><path d="M232,19.5 L250.8,19.5 L241.4,35.9 Z"/><path d="M279.8,19.5 L298.6,19.5 L289.2,35.9 Z"/><path d="M208.1,60.8 L226.9,60.8 L217.5,77.2 Z"/><path d="M255.9,60.8 L274.7,60.8 L265.3,77.2 Z"/><path d="M303.7,60.8 L322.5,60.8 L313.1,77.2 Z"/><path d="M232,102.1 L250.8,102.1 L241.4,118.5 Z"/><path d="M279.8,102.1 L298.6,102.1 L289.2,118.5 Z"/></g>
<circle cx="229.45" cy="3.8" r="3.1" fill="url(#pk)"/><circle cx="253.35" cy="3.8" r="3.1" fill="url(#pk)"/><circle cx="277.25" cy="3.8" r="3.1" fill="url(#pk)"/><circle cx="301.15" cy="3.8" r="3.1" fill="url(#pk)"/><circle cx="217.5" cy="10.9" r="3.1" fill="url(#pk)"/><circle cx="241.4" cy="10.9" r="3.1" fill="url(#pk)"/><circle cx="265.3" cy="10.9" r="3.1" fill="url(#pk)"/><circle cx="289.2" cy="10.9" r="3.1" fill="url(#pk)"/><circle cx="313.1" cy="10.9" r="3.1" fill="url(#pk)"/><circle cx="232" cy="19.5" r="3.3" fill="url(#gr)"/><circle cx="250.8" cy="19.5" r="3.3" fill="url(#gr)"/><circle cx="279.8" cy="19.5" r="3.3" fill="url(#gr)"/><circle cx="298.6" cy="19.5" r="3.3" fill="url(#gr)"/><circle cx="217.5" cy="25" r="3.1" fill="url(#pk)"/><circle cx="241.4" cy="25" r="3.1" fill="url(#pk)"/><circle cx="265.3" cy="25" r="3.1" fill="url(#pk)"/><circle cx="289.2" cy="25" r="3.1" fill="url(#pk)"/><circle cx="313.1" cy="25" r="3.1" fill="url(#pk)"/><circle cx="229.45" cy="31.8" r="3.1" fill="url(#pk)"/><circle cx="253.35" cy="31.8" r="3.1" fill="url(#pk)"/><circle cx="277.25" cy="31.8" r="3.1" fill="url(#pk)"/><circle cx="301.15" cy="31.8" r="3.1" fill="url(#pk)"/><circle cx="241.4" cy="35.9" r="3.3" fill="url(#gr)"/><circle cx="289.2" cy="35.9" r="3.3" fill="url(#gr)"/><circle cx="205.55" cy="45.1" r="3.1" fill="url(#pk)"/><circle cx="325.05" cy="45.1" r="3.1" fill="url(#pk)"/><circle cx="229.45" cy="45.5" r="3.1" fill="url(#pk)"/><circle cx="253.35" cy="45.5" r="3.1" fill="url(#pk)"/><circle cx="277.25" cy="45.5" r="3.1" fill="url(#pk)"/><circle cx="301.15" cy="45.5" r="3.1" fill="url(#pk)"/><circle cx="193.6" cy="52.2" r="3.1" fill="url(#pk)"/><circle cx="217.5" cy="52.2" r="3.1" fill="url(#pk)"/><circle cx="265.3" cy="52.2" r="3.1" fill="url(#pk)"/><circle cx="313.1" cy="52.2" r="3.1" fill="url(#pk)"/><circle cx="337" cy="52.2" r="3.1" fill="url(#pk)"/><circle cx="241.4" cy="52.5" r="3.1" fill="url(#pk)"/><circle cx="289.2" cy="52.5" r="3.1" fill="url(#pk)"/><circle cx="208.1" cy="60.8" r="3.3" fill="url(#gr)"/><circle cx="226.9" cy="60.8" r="3.3" fill="url(#gr)"/><circle cx="255.9" cy="60.8" r="3.3" fill="url(#gr)"/><circle cx="274.7" cy="60.8" r="3.3" fill="url(#gr)"/><circle cx="303.7" cy="60.8" r="3.3" fill="url(#gr)"/><circle cx="322.5" cy="60.8" r="3.3" fill="url(#gr)"/><circle cx="193.6" cy="66.3" r="3.1" fill="url(#pk)"/><circle cx="217.5" cy="66.3" r="3.1" fill="url(#pk)"/><circle cx="241.4" cy="66.3" r="3.1" fill="url(#pk)"/><circle cx="265.3" cy="66.3" r="3.1" fill="url(#pk)"/><circle cx="289.2" cy="66.3" r="3.1" fill="url(#pk)"/><circle cx="313.1" cy="66.3" r="3.1" fill="url(#pk)"/><circle cx="337" cy="66.3" r="3.1" fill="url(#pk)"/><circle cx="205.55" cy="73.1" r="3.1" fill="url(#pk)"/><circle cx="229.45" cy="73.1" r="3.1" fill="url(#pk)"/><circle cx="253.35" cy="73.1" r="3.1" fill="url(#pk)"/><circle cx="277.25" cy="73.1" r="3.1" fill="url(#pk)"/><circle cx="301.15" cy="73.1" r="3.1" fill="url(#pk)"/><circle cx="325.05" cy="73.1" r="3.1" fill="url(#pk)"/><circle cx="217.5" cy="77.2" r="3.3" fill="url(#gr)"/><circle cx="265.3" cy="77.2" r="3.3" fill="url(#gr)"/><circle cx="313.1" cy="77.2" r="3.3" fill="url(#gr)"/><circle cx="205.55" cy="86.8" r="3.1" fill="url(#pk)"/><circle cx="229.45" cy="86.8" r="3.1" fill="url(#pk)"/><circle cx="253.35" cy="86.8" r="3.1" fill="url(#pk)"/><circle cx="277.25" cy="86.8" r="3.1" fill="url(#pk)"/><circle cx="301.15" cy="86.8" r="3.1" fill="url(#pk)"/><circle cx="325.05" cy="86.8" r="3.1" fill="url(#pk)"/><circle cx="241.4" cy="93.5" r="3.1" fill="url(#pk)"/><circle cx="289.2" cy="93.5" r="3.1" fill="url(#pk)"/><circle cx="217.5" cy="93.8" r="3.1" fill="url(#pk)"/><circle cx="265.3" cy="93.8" r="3.1" fill="url(#pk)"/><circle cx="313.1" cy="93.8" r="3.1" fill="url(#pk)"/><circle cx="232" cy="102.1" r="3.3" fill="url(#gr)"/><circle cx="250.8" cy="102.1" r="3.3" fill="url(#gr)"/><circle cx="279.8" cy="102.1" r="3.3" fill="url(#gr)"/><circle cx="298.6" cy="102.1" r="3.3" fill="url(#gr)"/><circle cx="217.5" cy="107.6" r="3.1" fill="url(#pk)"/><circle cx="241.4" cy="107.6" r="3.1" fill="url(#pk)"/><circle cx="265.3" cy="107.6" r="3.1" fill="url(#pk)"/><circle cx="289.2" cy="107.6" r="3.1" fill="url(#pk)"/><circle cx="313.1" cy="107.6" r="3.1" fill="url(#pk)"/><circle cx="229.45" cy="114.4" r="3.1" fill="url(#pk)"/><circle cx="253.35" cy="114.4" r="3.1" fill="url(#pk)"/><circle cx="277.25" cy="114.4" r="3.1" fill="url(#pk)"/><circle cx="301.15" cy="114.4" r="3.1" fill="url(#pk)"/><circle cx="241.4" cy="118.5" r="3.3" fill="url(#gr)"/><circle cx="289.2" cy="118.5" r="3.3" fill="url(#gr)"/><circle cx="229.45" cy="128.1" r="3.1" fill="url(#pk)"/><circle cx="253.35" cy="128.1" r="3.1" fill="url(#pk)"/><circle cx="277.25" cy="128.1" r="3.1" fill="url(#pk)"/><circle cx="301.15" cy="128.1" r="3.1" fill="url(#pk)"/><circle cx="241.4" cy="135.1" r="3.1" fill="url(#pk)"/><circle cx="289.2" cy="135.1" r="3.1" fill="url(#pk)"/>
<g fill="#c4e6ae" fill-opacity="0.82" stroke="#b0dc98" stroke-width="0.5"><path d="M289.4,36.5 L277,60.2 L301.6,60.2 Z"/><path d="M265.3,77.8 L253.2,102 L277.4,102 Z"/><path d="M313.1,77.8 L301,102 L325.4,102 Z"/></g>
<g fill="#8696e2" fill-opacity="0.72" stroke="#6cc07c" stroke-width="0.8"><path d="M257.6,61.4 L273,61.4 L265.3,74.8 Z"/><path d="M305.4,61.4 L320.8,61.4 L313.1,74.8 Z"/><path d="M281.5,102.7 L296.9,102.7 L289.2,116.1 Z"/></g>
<path d="M217.2,66.4 L265,66.4 L289,107.3 L241.3,107.3 Z" fill="none" stroke="#6a6a6a" stroke-width="0.75"/>
<g stroke-width="0.8"><line x1="228.5" y1="203.9" x2="233.7" y2="197.15" stroke="#9cc6a8"/><line x1="233.7" y1="197.15" x2="238.9" y2="190.4" stroke="#c6b0d2"/><line x1="228.5" y1="203.9" x2="233.7" y2="199.25" stroke="#9cc6a8"/><line x1="233.7" y1="199.25" x2="238.9" y2="194.6" stroke="#c6b0d2"/><line x1="228.5" y1="203.9" x2="230.55" y2="209.25" stroke="#9cc6a8"/><line x1="230.55" y1="209.25" x2="232.6" y2="214.6" stroke="#c6b0d2"/><line x1="228.5" y1="203.9" x2="224" y2="199.25" stroke="#9cc6a8"/><line x1="224" y1="199.25" x2="219.5" y2="194.6" stroke="#c6b0d2"/><line x1="228.5" y1="203.9" x2="220.7" y2="208.05" stroke="#9cc6a8"/><line x1="220.7" y1="208.05" x2="212.9" y2="212.2" stroke="#c6b0d2"/><line x1="244.1" y1="203.9" x2="241.5" y2="197.15" stroke="#9cc6a8"/><line x1="241.5" y1="197.15" x2="238.9" y2="190.4" stroke="#c6b0d2"/><line x1="244.1" y1="203.9" x2="241.5" y2="199.25" stroke="#9cc6a8"/><line x1="241.5" y1="199.25" x2="238.9" y2="194.6" stroke="#c6b0d2"/><line x1="244.1" y1="203.9" x2="238.35" y2="209.25" stroke="#9cc6a8"/><line x1="238.35" y1="209.25" x2="232.6" y2="214.6" stroke="#c6b0d2"/><line x1="244.1" y1="203.9" x2="251.7" y2="199.25" stroke="#9cc6a8"/><line x1="251.7" y1="199.25" x2="259.3" y2="194.6" stroke="#c6b0d2"/><line x1="244.1" y1="203.9" x2="248.4" y2="208.05" stroke="#9cc6a8"/><line x1="248.4" y1="208.05" x2="252.7" y2="212.2" stroke="#c6b0d2"/><line x1="244.1" y1="203.9" x2="248.4" y2="209.65" stroke="#9cc6a8"/><line x1="248.4" y1="209.65" x2="252.7" y2="215.4" stroke="#c6b0d2"/><line x1="268.3" y1="203.9" x2="273.5" y2="197.15" stroke="#9cc6a8"/><line x1="273.5" y1="197.15" x2="278.7" y2="190.4" stroke="#c6b0d2"/><line x1="268.3" y1="203.9" x2="273.5" y2="199.25" stroke="#9cc6a8"/><line x1="273.5" y1="199.25" x2="278.7" y2="194.6" stroke="#c6b0d2"/><line x1="268.3" y1="203.9" x2="270.35" y2="209.25" stroke="#9cc6a8"/><line x1="270.35" y1="209.25" x2="272.4" y2="214.6" stroke="#c6b0d2"/><line x1="268.3" y1="203.9" x2="263.8" y2="199.25" stroke="#9cc6a8"/><line x1="263.8" y1="199.25" x2="259.3" y2="194.6" stroke="#c6b0d2"/><line x1="268.3" y1="203.9" x2="260.5" y2="208.05" stroke="#9cc6a8"/><line x1="260.5" y1="208.05" x2="252.7" y2="212.2" stroke="#c6b0d2"/><line x1="283.9" y1="203.9" x2="281.3" y2="197.15" stroke="#9cc6a8"/><line x1="281.3" y1="197.15" x2="278.7" y2="190.4" stroke="#c6b0d2"/><line x1="283.9" y1="203.9" x2="281.3" y2="199.25" stroke="#9cc6a8"/><line x1="281.3" y1="199.25" x2="278.7" y2="194.6" stroke="#c6b0d2"/><line x1="283.9" y1="203.9" x2="278.15" y2="209.25" stroke="#9cc6a8"/><line x1="278.15" y1="209.25" x2="272.4" y2="214.6" stroke="#c6b0d2"/><line x1="283.9" y1="203.9" x2="291.5" y2="199.25" stroke="#9cc6a8"/><line x1="291.5" y1="199.25" x2="299.1" y2="194.6" stroke="#c6b0d2"/><line x1="283.9" y1="203.9" x2="288.2" y2="208.05" stroke="#9cc6a8"/><line x1="288.2" y1="208.05" x2="292.5" y2="212.2" stroke="#c6b0d2"/><line x1="283.9" y1="203.9" x2="288.2" y2="209.65" stroke="#9cc6a8"/><line x1="288.2" y1="209.65" x2="292.5" y2="215.4" stroke="#c6b0d2"/><line x1="308.1" y1="203.9" x2="313.3" y2="197.15" stroke="#9cc6a8"/><line x1="313.3" y1="197.15" x2="318.5" y2="190.4" stroke="#c6b0d2"/><line x1="308.1" y1="203.9" x2="313.3" y2="199.25" stroke="#9cc6a8"/><line x1="313.3" y1="199.25" x2="318.5" y2="194.6" stroke="#c6b0d2"/><line x1="308.1" y1="203.9" x2="310.15" y2="209.25" stroke="#9cc6a8"/><line x1="310.15" y1="209.25" x2="312.2" y2="214.6" stroke="#c6b0d2"/><line x1="308.1" y1="203.9" x2="303.6" y2="199.25" stroke="#9cc6a8"/><line x1="303.6" y1="199.25" x2="299.1" y2="194.6" stroke="#c6b0d2"/><line x1="308.1" y1="203.9" x2="300.3" y2="208.05" stroke="#9cc6a8"/><line x1="300.3" y1="208.05" x2="292.5" y2="212.2" stroke="#c6b0d2"/><line x1="323.7" y1="203.9" x2="321.1" y2="197.15" stroke="#9cc6a8"/><line x1="321.1" y1="197.15" x2="318.5" y2="190.4" stroke="#c6b0d2"/><line x1="323.7" y1="203.9" x2="321.1" y2="199.25" stroke="#9cc6a8"/><line x1="321.1" y1="199.25" x2="318.5" y2="194.6" stroke="#c6b0d2"/><line x1="323.7" y1="203.9" x2="317.95" y2="209.25" stroke="#9cc6a8"/><line x1="317.95" y1="209.25" x2="312.2" y2="214.6" stroke="#c6b0d2"/><line x1="323.7" y1="203.9" x2="331.3" y2="199.25" stroke="#9cc6a8"/><line x1="331.3" y1="199.25" x2="338.9" y2="194.6" stroke="#c6b0d2"/><line x1="323.7" y1="203.9" x2="328" y2="208.05" stroke="#9cc6a8"/><line x1="328" y1="208.05" x2="332.3" y2="212.2" stroke="#c6b0d2"/><line x1="323.7" y1="203.9" x2="328" y2="209.65" stroke="#9cc6a8"/><line x1="328" y1="209.65" x2="332.3" y2="215.4" stroke="#c6b0d2"/></g><g stroke="#74b884" stroke-width="0.9"><line x1="228.5" y1="203.9" x2="244.1" y2="203.9"/><line x1="268.3" y1="203.9" x2="283.9" y2="203.9"/><line x1="308.1" y1="203.9" x2="323.7" y2="203.9"/></g>
<circle cx="238.9" cy="190.4" r="3" fill="url(#pk)"/><circle cx="278.7" cy="190.4" r="3" fill="url(#pk)"/><circle cx="318.5" cy="190.4" r="3" fill="url(#pk)"/><circle cx="238.9" cy="194.6" r="3" fill="url(#pk)"/><circle cx="278.7" cy="194.6" r="3" fill="url(#pk)"/><circle cx="318.5" cy="194.6" r="3" fill="url(#pk)"/><circle cx="219.5" cy="194.6" r="3" fill="url(#pk)"/><circle cx="259.3" cy="194.6" r="3" fill="url(#pk)"/><circle cx="299.1" cy="194.6" r="3" fill="url(#pk)"/><circle cx="338.9" cy="194.6" r="3" fill="url(#pk)"/><circle cx="228.5" cy="203.9" r="3.2" fill="url(#gr)"/><circle cx="244.1" cy="203.9" r="3.2" fill="url(#gr)"/><circle cx="268.3" cy="203.9" r="3.2" fill="url(#gr)"/><circle cx="283.9" cy="203.9" r="3.2" fill="url(#gr)"/><circle cx="308.1" cy="203.9" r="3.2" fill="url(#gr)"/><circle cx="323.7" cy="203.9" r="3.2" fill="url(#gr)"/><circle cx="212.9" cy="212.2" r="3" fill="url(#pk)"/><circle cx="252.7" cy="212.2" r="3" fill="url(#pk)"/><circle cx="292.5" cy="212.2" r="3" fill="url(#pk)"/><circle cx="332.3" cy="212.2" r="3" fill="url(#pk)"/><circle cx="232.6" cy="214.6" r="3" fill="url(#pk)"/><circle cx="272.4" cy="214.6" r="3" fill="url(#pk)"/><circle cx="312.2" cy="214.6" r="3" fill="url(#pk)"/><circle cx="252.7" cy="215.4" r="3" fill="url(#pk)"/><circle cx="292.5" cy="215.4" r="3" fill="url(#pk)"/><circle cx="332.3" cy="215.4" r="3" fill="url(#pk)"/>
<line x1="21.4" y1="222.3" x2="21.4" y2="188.4" stroke="#555" stroke-width="0.65" marker-end="url(#ah)"/><line x1="21.4" y1="222.3" x2="53.9" y2="222.3" stroke="#555" stroke-width="0.65" marker-end="url(#ah)"/><circle cx="21.4" cy="222.3" r="2.3" fill="#000"/><text x="6.5" y="192.5" font-size="13" text-anchor="start" fill="#1a1a1a" >c</text><text x="54.3" y="226.6" font-size="13" text-anchor="start" fill="#1a1a1a" >a</text><text x="8.8" y="232.8" font-size="13" text-anchor="start" fill="#1a1a1a" >b</text>
<line x1="198.4" y1="159.4" x2="178" y2="129.2" stroke="#555" stroke-width="0.65" marker-end="url(#ah)"/><line x1="198.4" y1="159.4" x2="229.9" y2="159.4" stroke="#555" stroke-width="0.65" marker-end="url(#ah)"/><circle cx="198.4" cy="159.4" r="2.3" fill="#000"/><text x="166.3" y="132.9" font-size="13" text-anchor="start" fill="#1a1a1a" >b</text><text x="231" y="163.9" font-size="13" text-anchor="start" fill="#1a1a1a" >a</text><text x="185.6" y="169.5" font-size="13" text-anchor="start" fill="#1a1a1a" >c</text>
<line x1="189.6" y1="237.4" x2="189.6" y2="203.1" stroke="#555" stroke-width="0.65" marker-end="url(#ah)"/><line x1="189.6" y1="237.4" x2="221.8" y2="237.4" stroke="#555" stroke-width="0.65" marker-end="url(#ah)"/><circle cx="189.6" cy="237.4" r="2.3" fill="#000"/><text x="175.2" y="207.6" font-size="13" text-anchor="start" fill="#1a1a1a" >c</text><text x="222.5" y="241.5" font-size="13" text-anchor="start" fill="#1a1a1a" >a</text><text x="176.8" y="248" font-size="13" text-anchor="start" fill="#1a1a1a" >b</text>
<text x="0" y="17.3" font-size="16.5" text-anchor="start" fill="#1a1a1a" >(a)</text>
<text x="150" y="17.3" font-size="16.5" text-anchor="start" fill="#1a1a1a" >(b)</text>
<text x="355.4" y="17.3" font-size="16.5" text-anchor="start" fill="#1a1a1a" >(d)</text>
<g stroke="#b4b4b4" stroke-width="0.8" stroke-dasharray="1.2,1.6"><line x1="458.8" y1="6.3" x2="458.8" y2="221.6"/><line x1="505.3" y1="6.3" x2="505.3" y2="221.6"/><line x1="551.3" y1="6.3" x2="551.3" y2="221.6"/><line x1="436" y1="125.9" x2="673" y2="125.9"/></g>
<g fill="none" stroke-width="1.5" clip-path="url(#clipD)"><path d="M436,33 C436.8,31.75 438.87,28 440.8,25.5 C442.73,23 445.55,19.83 447.6,18 C449.65,16.17 451.27,15.25 453.1,14.5 C454.93,13.75 456.78,13.5 458.6,13.5 C460.42,13.5 461.97,13.65 464,14.5 C466.03,15.35 468.52,17 470.8,18.6 C473.08,20.2 475.42,22.38 477.7,24.1 C479.98,25.82 482.23,27.53 484.5,28.9 C486.77,30.27 489.03,31.55 491.3,32.3 C493.57,33.05 495.78,33.18 498.1,33.4 C500.42,33.62 502.62,33.67 505.2,33.6 C507.78,33.53 511.05,33.45 513.6,33 C516.15,32.55 518.22,32.05 520.5,30.9 C522.78,29.75 525.03,27.8 527.3,26.1 C529.57,24.4 531.83,22.4 534.1,20.7 C536.37,19 538.85,17.03 540.9,15.9 C542.95,14.77 544.65,14.3 546.4,13.9 C548.15,13.5 549.58,13.28 551.4,13.5 C553.22,13.72 555.18,14.12 557.3,15.2 C559.42,16.28 561.82,17.83 564.1,20 C566.38,22.17 569.25,25.97 571,28.2 C572.75,30.43 574,32.53 574.6,33.4" stroke="#e8464f"/><path d="M436,33 C436.8,34.25 439.08,37.88 440.8,40.5 C442.52,43.12 444.48,46.4 446.3,48.7 C448.12,51 450.22,52.82 451.7,54.3 C453.18,55.78 454.05,56.83 455.2,57.6 C456.35,58.37 457.43,58.9 458.6,58.9 C459.77,58.9 460.95,58.37 462.2,57.6 C463.45,56.83 464.43,56.02 466.1,54.3 C467.77,52.58 470.05,49.6 472.2,47.3 C474.35,45 476.73,42.32 479,40.5 C481.27,38.68 483.52,37.43 485.8,36.4 C488.08,35.37 490.42,34.73 492.7,34.3 C494.98,33.87 497.42,33.82 499.5,33.8 C501.58,33.78 502.85,33.95 505.2,34.2 C507.55,34.45 511.05,34.72 513.6,35.3 C516.15,35.88 518.22,36.5 520.5,37.7 C522.78,38.9 525.03,40.9 527.3,42.5 C529.57,44.1 531.83,45.6 534.1,47.3 C536.37,49 539.17,51.28 540.9,52.7 C542.63,54.12 543.32,54.87 544.5,55.8 C545.68,56.73 546.85,57.72 548,58.3 C549.15,58.88 550.23,59.3 551.4,59.3 C552.57,59.3 553.78,59.02 555,58.3 C556.22,57.58 557.18,56.6 558.7,55 C560.22,53.4 562.28,51 564.1,48.7 C565.92,46.4 567.85,43.72 569.6,41.2 C571.35,38.68 573.77,34.87 574.6,33.6" stroke="#e8464f"/><path d="M436,146.6 C436.78,145.87 439.18,143.95 440.7,142.2 C442.22,140.45 443.45,138.23 445.1,136.1 C446.75,133.97 448.93,130.97 450.6,129.4 C452.27,127.83 453.7,127.28 455.1,126.7 C456.5,126.12 457.52,125.82 459,125.9 C460.48,125.98 462.25,126.33 464,127.2 C465.75,128.07 467.65,129.8 469.5,131.1 C471.35,132.4 473.25,133.88 475.1,135 C476.95,136.12 478.57,136.88 480.6,137.8 C482.63,138.72 485.27,139.48 487.3,140.5 C489.33,141.52 490.95,142.7 492.8,143.9 C494.65,145.1 496.55,146.68 498.4,147.7 C500.25,148.72 502.75,149.57 503.9,150 C505.05,150.43 504.78,150.3 505.3,150.3 C505.82,150.3 505.8,150.43 507,150 C508.2,149.57 510.67,148.72 512.5,147.7 C514.33,146.68 516.17,145.1 518,143.9 C519.83,142.7 521.47,141.52 523.5,140.5 C525.53,139.48 528.17,138.72 530.2,137.8 C532.23,136.88 533.85,136.12 535.7,135 C537.55,133.88 539.45,132.4 541.3,131.1 C543.15,129.8 545.13,128.07 546.8,127.2 C548.47,126.33 549.82,125.98 551.3,125.9 C552.78,125.82 554.22,126.12 555.7,126.7 C557.18,127.28 558.53,127.83 560.2,129.4 C561.87,130.97 564.05,133.97 565.7,136.1 C567.35,138.23 568.62,140.45 570.1,142.2 C571.58,143.95 573.85,145.87 574.6,146.6" stroke="#e8464f"/><path d="M436,67.8 C436.8,67.33 439.08,66.27 440.8,65 C442.52,63.73 444.6,61.67 446.3,60.2 C448,58.73 449.58,57.37 451,56.2 C452.42,55.03 453.53,53.88 454.8,53.2 C456.07,52.52 457.33,52.1 458.6,52.1 C459.87,52.1 461.05,52.62 462.4,53.2 C463.75,53.78 465.3,54.87 466.7,55.6 C468.1,56.33 468.97,56.7 470.8,57.6 C472.63,58.5 475.42,60.1 477.7,61 C479.98,61.9 482.23,62.45 484.5,63 C486.77,63.55 489.03,63.85 491.3,64.3 C493.57,64.75 495.78,65.33 498.1,65.7 C500.42,66.07 502.62,66.83 505.2,66.5 C507.78,66.17 511.05,64.63 513.6,63.7 C516.15,62.77 518.22,61.63 520.5,60.9 C522.78,60.17 525.03,59.75 527.3,59.3 C529.57,58.85 531.83,58.72 534.1,58.2 C536.37,57.68 539.08,56.97 540.9,56.2 C542.72,55.43 543.78,54.23 545,53.6 C546.22,52.97 547.13,52.65 548.2,52.4 C549.27,52.15 550.27,52.03 551.4,52.1 C552.53,52.17 553.98,52.48 555,52.8 C556.02,53.12 556.67,53.43 557.5,54 C558.33,54.57 558.9,55.27 560,56.2 C561.1,57.13 562.5,58.13 564.1,59.6 C565.7,61.07 567.85,63.63 569.6,65 C571.35,66.37 573.77,67.33 574.6,67.8" stroke="#8cc6f4"/><path d="M436.1,208.8 C436.92,209 439.28,209.47 441,210 C442.72,210.53 444.57,211.08 446.4,212 C448.23,212.92 449.93,214.42 452,215.5 C454.07,216.58 456.63,218.33 458.8,218.5 C460.97,218.67 462.92,217.42 465,216.5 C467.08,215.58 469.13,214.17 471.3,213 C473.47,211.83 475.58,210.72 478,209.5 C480.42,208.28 483.73,206.6 485.8,205.7 C487.87,204.8 488.78,204.67 490.4,204.1 C492.02,203.53 493.8,203.2 495.5,202.3 C497.2,201.4 498.98,199.6 500.6,198.7 C502.22,197.8 503.67,196.82 505.2,196.9 C506.73,196.98 508.17,198.08 509.8,199.2 C511.43,200.32 513.12,202.42 515,203.6 C516.88,204.78 518.7,205.57 521.1,206.3 C523.5,207.03 527.08,207.3 529.4,208 C531.72,208.7 532.93,209.5 535,210.5 C537.07,211.5 539.97,213 541.8,214 C543.63,215 544.45,215.8 546,216.5 C547.55,217.2 549.43,218.28 551.1,218.2 C552.77,218.12 554.1,217.03 556,216 C557.9,214.97 560.67,213.08 562.5,212 C564.33,210.92 564.98,210.13 567,209.5 C569.02,208.87 573.33,208.42 574.6,208.2" stroke="#8cc6f4"/><path d="M476.5,222 C476.78,221.77 476.57,221.85 478.2,220.6 C479.83,219.35 483.75,216.7 486.3,214.5 C488.85,212.3 491.28,209.62 493.5,207.4 C495.72,205.18 498.02,202.73 499.6,201.2 C501.18,199.67 502.07,198.92 503,198.2 C503.93,197.48 504.47,196.9 505.2,196.9 C505.93,196.9 506.45,197.48 507.4,198.2 C508.35,198.92 509.3,199.67 510.9,201.2 C512.5,202.73 514.97,205.18 517,207.4 C519.03,209.62 521.23,212.3 523.1,214.5 C524.97,216.7 527.13,219.35 528.2,220.6 C529.27,221.85 529.28,221.77 529.5,222" stroke="#8cc6f4"/><path d="M452.3,55.2 C452.78,55.6 454.15,56.98 455.2,57.6 C456.25,58.22 457.43,58.9 458.6,58.9 C459.77,58.9 461.08,58.22 462.2,57.6 C463.32,56.98 464.78,55.6 465.3,55.2" stroke="#e8464f"/><path d="M544.8,55.8 C545.33,56.22 546.9,57.72 548,58.3 C549.1,58.88 550.23,59.3 551.4,59.3 C552.57,59.3 553.9,58.92 555,58.3 C556.1,57.68 557.5,56.05 558,55.6" stroke="#e8464f"/><path d="M499,219 Q505.2,214.2 510.8,218" stroke="#8cc6f4" stroke-dasharray="3,1.2"/><path d="M512.4,217 Q519,219.5 529.2,221" stroke="#e8464f"/><path d="M496,221.2 L498.5,220.4" stroke="#e8464f"/></g>
<g stroke="#222" stroke-width="1.1"><line x1="449" y1="59.6" x2="470.6" y2="59.6"/><line x1="449" y1="126.1" x2="470.1" y2="126.1"/><line x1="541" y1="60.3" x2="562.8" y2="60.3"/><line x1="539.8" y1="125.9" x2="561.9" y2="125.9"/><line x1="495.3" y1="151.2" x2="517" y2="151.2"/><line x1="495" y1="196.5" x2="517" y2="196.5"/></g>
<g stroke="#555" stroke-width="0.65"><line x1="458.8" y1="85" x2="458.8" y2="60.6" marker-end="url(#ah2)"/><line x1="458.8" y1="102" x2="458.8" y2="125" marker-end="url(#ah2)"/><line x1="551.2" y1="85" x2="551.2" y2="61.2" marker-end="url(#ah2)"/><line x1="551.2" y1="102" x2="551.2" y2="125" marker-end="url(#ah2)"/><line x1="505.3" y1="173" x2="505.3" y2="152.2" marker-end="url(#ah2)"/><line x1="505.3" y1="175" x2="505.3" y2="195.5" marker-end="url(#ah2)"/></g>
<text x="442" y="98.2" font-size="11" text-anchor="start" fill="#1a1a1a" textLength="39.7" lengthAdjust="spacingAndGlyphs" >0.561 eV</text>
<text x="530.7" y="97.5" font-size="11" text-anchor="start" fill="#1a1a1a" textLength="40.3" lengthAdjust="spacingAndGlyphs" >0.561 eV</text>
<text x="507.4" y="179.5" font-size="11" text-anchor="start" fill="#1a1a1a" textLength="39.2" lengthAdjust="spacingAndGlyphs" >0.859 eV</text>
<text x="444" y="76.6" font-size="11" fill="#e8464f" font-family="Liberation Serif, serif" font-weight="bold">σ</text>
<text x="449.4" y="76.4" font-size="10" fill="#ec6068">+</text>
<path d="M463.8,68.4 C470,67.8 474.5,70 473.6,73.8 C472.8,76.4 469.6,77.4 467.4,77.6" fill="none" stroke="#e36414" stroke-width="2.4"/>
<path d="M468.2,74.8 L463.2,78.4 L468.6,80.2 Z" fill="#e36414"/>
<text x="556" y="75.8" font-size="11" fill="#8a1ef0" font-family="Liberation Serif, serif" font-weight="bold">σ</text>
<line x1="561.8" y1="71.8" x2="566.8" y2="71.8" stroke="#c690f8" stroke-width="1"/>
<path d="M546.8,68.6 C541,68.8 537,71 537.6,74.2 C538.2,76.6 541.2,77.4 543.4,77.4" fill="none" stroke="#9a5fd0" stroke-width="2.4"/>
<path d="M542.6,74.6 L547.4,78.2 L542.2,80.2 Z" fill="#9a5fd0"/>
<rect x="454" y="157.4" width="9.8" height="37.4" fill="url(#spin)"/>
<text x="465.4" y="167" font-size="11" text-anchor="start" fill="#1a1a1a" textLength="31.8" lengthAdjust="spacingAndGlyphs" >spin up</text>
<text x="465.4" y="192.6" font-size="11" text-anchor="start" fill="#1a1a1a" textLength="31.8" lengthAdjust="spacingAndGlyphs" >spin dn</text>
<polygon points="574.5,11.2 575.6,11.6 578.8,13 584.6,15.5 585.4,17.4 583.9,18.9 586.1,21.4 591.9,22.8 600.7,24 591.9,25.5 586.1,26.9 583.9,28.7 586.1,30.6 599.2,32.5 613.9,33.9 634.3,35.4 613.9,36.9 599.2,38.3 587.5,40.8 585.4,43 591.9,45.9 605.1,47.7 591.9,49.6 584.6,51.5 589,54.7 599.2,58.4 613.9,61.3 632.9,63.2 613.9,64.9 599.2,66.4 587.5,68.6 578.8,71.1 575.6,72.3 574.5,72.6" fill="#d9d9d9" stroke="#d9d9d9" stroke-width="0.4" stroke-linejoin="round"/><polygon points="574.5,125.2 575.1,125.4 580.2,127.3 584.6,129.3 580.2,131.2 578.8,133.4 587.5,136.3 599.2,138.5 613.9,140.4 607.3,142.5 606.5,144.8 596.3,146.8 584.6,148.7 575.1,152.4 574.5,152.6" fill="#d9d9d9" stroke="#d9d9d9" stroke-width="0.4" stroke-linejoin="round"/><polygon points="574.5,195 574.9,195.3 577.7,197.5 575.5,200.8 583.1,203.5 597.4,206.3 635.7,209 600.7,211.8 600.7,214 605,217.2 607.8,218.9 607.2,221.6 574.5,221.6" fill="#d9d9d9" stroke="#d9d9d9" stroke-width="0.4" stroke-linejoin="round"/>
<g fill="none" stroke-width="1.6"><path d="M575,13 C575.13,13.65 575.67,16.58 576,17.9 C576.33,19.22 577.43,21.57 577.5,22.9 C577.57,24.23 576.3,26.71 576.5,27.9 C576.7,29.09 578.28,30.88 579,31.8 C579.72,32.72 581.9,34 581.9,34.8 C581.9,35.6 579.79,36.87 579,37.8 C578.21,38.73 576.4,41.11 576,41.8 C575.6,42.49 575.87,42.19 576,43 C576.13,43.81 576.87,46.58 577,47.9 C577.13,49.22 576.73,51.57 577,52.9 C577.27,54.23 578.35,56.58 579,57.9 C579.65,59.22 581.9,61.61 581.9,62.8 C581.9,63.99 579.85,65.73 579,66.8 C578.15,67.87 575.97,70.27 575.5,70.8" stroke="#5ef2f2"/><path d="M575,126 C575.21,126.6 576.49,129.22 576.6,130.5 C576.71,131.78 575.21,134.33 575.8,135.6 C576.39,136.87 580.6,138.75 581,140 C581.4,141.25 579.49,143.73 578.8,145 C578.11,146.27 576.31,148.51 575.8,149.5 C575.29,150.49 575.11,152.01 575,152.4" stroke="#5ef2f2"/><path d="M574.9,194.2 C574.98,195.23 574.47,200.14 575.5,201.9 C576.53,203.66 582.39,205.93 582.6,207.4 C582.81,208.87 577.46,211.01 577.1,212.9 C576.74,214.79 579.53,220.44 579.9,221.6" stroke="#5ef2f2"/><path d="M575.5,12 C575.97,12.27 578.21,13.47 579,14 C579.79,14.53 581.13,15.48 581.4,16 C581.67,16.52 580.79,17.38 581,17.9 C581.21,18.42 582.08,19.37 583,19.9 C583.92,20.43 586.85,21.37 587.9,21.9 C588.95,22.43 590.77,23.37 590.9,23.9 C591.03,24.43 589.97,25.37 588.9,25.9 C587.83,26.43 583.9,27.43 582.9,27.9 C581.9,28.37 581.13,29.01 581.4,29.4 C581.67,29.79 582.85,30.35 584.9,30.8 C586.95,31.25 593.88,32.37 596.8,32.8 C599.72,33.23 604.95,33.71 606.8,34 C608.65,34.29 610.7,34.63 610.7,35 C610.7,35.37 608.65,36.36 606.8,36.8 C604.95,37.24 599.32,37.9 596.8,38.3 C594.28,38.7 589.62,39.37 587.9,39.8 C586.18,40.23 584.63,41.01 583.9,41.5 C583.17,41.99 582,42.98 582.4,43.5 C582.8,44.02 585.5,44.88 586.9,45.4 C588.3,45.92 592.37,46.93 592.9,47.4 C593.43,47.87 592.23,48.43 590.9,48.9 C589.57,49.37 584.43,50.37 582.9,50.9 C581.37,51.43 579.73,52.3 579.4,52.9 C579.07,53.5 579.67,54.8 580.4,55.4 C581.13,56 582.98,56.81 584.9,57.4 C586.82,57.99 592.41,59.15 594.8,59.8 C597.19,60.45 601.73,61.74 602.8,62.3 C603.87,62.86 603.6,63.53 602.8,64 C602,64.47 599.19,65.29 596.8,65.8 C594.41,66.31 587.41,67.27 584.9,67.8 C582.39,68.33 579.32,69.2 578,69.8 C576.68,70.4 575.4,71.97 575,72.3" stroke="#a040f2"/><path d="M575.1,125.4 C575.69,125.88 579.3,128.12 579.5,129 C579.7,129.88 576.8,131.12 576.6,132 C576.4,132.88 576.35,134.83 578,135.6 C579.65,136.37 586.85,137.16 589,137.8 C591.15,138.44 593.81,139.52 594.1,140.4 C594.39,141.28 592.27,143.59 591.2,144.4 C590.13,145.21 587.75,145.82 586.1,146.5 C584.45,147.18 580.27,148.62 578.8,149.5 C577.33,150.38 575.59,152.62 575.1,153.1" stroke="#a040f2"/><path d="M576,201.4 C576.67,201.68 578.15,202.85 581,203.5 C583.85,204.15 594.12,205.57 597.4,206.3 C600.68,207.03 605.6,208.35 605.6,209 C605.6,209.65 599.73,210.53 597.4,211.2 C595.07,211.87 589.42,213.35 588.1,214 C586.78,214.65 587.14,215.53 587.5,216.1 C587.86,216.67 590.43,217.57 590.8,218.3 C591.17,219.03 590.37,221.16 590.3,221.6" stroke="#a040f2"/></g>
<rect x="608.9" y="158.9" width="24.4" height="11.5" fill="#d9d9d9"/>
<line x1="608.4" y1="177.9" x2="633.7" y2="177.9" stroke="#a040f2" stroke-width="1.6"/>
<line x1="608.4" y1="191.5" x2="633.7" y2="191.5" stroke="#5ef2f2" stroke-width="1.6"/>
<text x="637.2" y="168.6" font-size="11.5" text-anchor="start" fill="#1a1a1a" textLength="29.8" lengthAdjust="spacingAndGlyphs" >TDOS</text>
<text x="637.2" y="182" font-size="11.5" text-anchor="start" fill="#1a1a1a" textLength="13" lengthAdjust="spacingAndGlyphs" >Nb</text>
<text x="637.4" y="195.3" font-size="11.5" text-anchor="start" fill="#1a1a1a" >I</text>
<path d="M435.9,6.3 H673 V221.6 H435.9 Z" fill="none" stroke="#222" stroke-width="1.2"/>
<line x1="574.4" y1="6.3" x2="574.4" y2="221.6" stroke="#1d3a3a" stroke-width="1.3"/>
<g stroke="#222" stroke-width="1"><line x1="432" y1="6.3" x2="435.9" y2="6.3"/><line x1="432" y1="30.22" x2="435.9" y2="30.22"/><line x1="432" y1="54.14" x2="435.9" y2="54.14"/><line x1="432" y1="78.06" x2="435.9" y2="78.06"/><line x1="432" y1="101.98" x2="435.9" y2="101.98"/><line x1="432" y1="125.9" x2="435.9" y2="125.9"/><line x1="432" y1="149.82" x2="435.9" y2="149.82"/><line x1="432" y1="173.74" x2="435.9" y2="173.74"/><line x1="432" y1="197.66" x2="435.9" y2="197.66"/><line x1="432" y1="221.58" x2="435.9" y2="221.58"/><line x1="574.4" y1="221.6" x2="574.4" y2="225.2"/><line x1="590.75" y1="221.6" x2="590.75" y2="225.2"/><line x1="607.1" y1="221.6" x2="607.1" y2="225.2"/><line x1="623.45" y1="221.6" x2="623.45" y2="225.2"/><line x1="639.8" y1="221.6" x2="639.8" y2="225.2"/><line x1="656.15" y1="221.6" x2="656.15" y2="225.2"/><line x1="672.5" y1="221.6" x2="672.5" y2="225.2"/></g>
<text x="428.5" y="9.7" font-size="10.2" text-anchor="end" fill="#1a1a1a" textLength="14.4" lengthAdjust="spacingAndGlyphs" >1.0</text>
<text x="428.5" y="33.62" font-size="10.2" text-anchor="end" fill="#1a1a1a" textLength="14.4" lengthAdjust="spacingAndGlyphs" >0.8</text>
<text x="428.5" y="57.54" font-size="10.2" text-anchor="end" fill="#1a1a1a" textLength="14.4" lengthAdjust="spacingAndGlyphs" >0.6</text>
<text x="428.5" y="81.46" font-size="10.2" text-anchor="end" fill="#1a1a1a" textLength="14.4" lengthAdjust="spacingAndGlyphs" >0.4</text>
<text x="428.5" y="105.38" font-size="10.2" text-anchor="end" fill="#1a1a1a" textLength="14.4" lengthAdjust="spacingAndGlyphs" >0.2</text>
<text x="428.5" y="129.3" font-size="10.2" text-anchor="end" fill="#1a1a1a" textLength="14.4" lengthAdjust="spacingAndGlyphs" >0.0</text>
<text x="428.5" y="153.22" font-size="10.2" text-anchor="end" fill="#1a1a1a" textLength="20.6" lengthAdjust="spacingAndGlyphs" >−0.2</text>
<text x="428.5" y="177.14" font-size="10.2" text-anchor="end" fill="#1a1a1a" textLength="20.6" lengthAdjust="spacingAndGlyphs" >−0.4</text>
<text x="428.5" y="201.06" font-size="10.2" text-anchor="end" fill="#1a1a1a" textLength="20.6" lengthAdjust="spacingAndGlyphs" >−0.6</text>
<text x="428.5" y="224.98" font-size="10.2" text-anchor="end" fill="#1a1a1a" textLength="20.6" lengthAdjust="spacingAndGlyphs" >−0.8</text>
<text x="436.5" y="237" font-size="11" text-anchor="middle" fill="#1a1a1a" >M</text>
<text x="455.5" y="237" font-size="11" text-anchor="start" fill="#1a1a1a" textLength="13.5" lengthAdjust="spacingAndGlyphs" >K+</text>
<text x="502.9" y="237.6" font-size="13" text-anchor="start" fill="#333" font-family="Liberation Serif, serif" >Γ</text>
<text x="547.4" y="237" font-size="11" text-anchor="start" fill="#1a1a1a" textLength="10.5" lengthAdjust="spacingAndGlyphs" >K-</text>
<text x="565.8" y="237" font-size="11" text-anchor="start" fill="#1a1a1a" textLength="8.8" lengthAdjust="spacingAndGlyphs" >M</text>
<text x="579.4" y="237.4" font-size="10.6" text-anchor="middle" fill="#1a1a1a" >0</text>
<text x="595.75" y="237.4" font-size="10.6" text-anchor="middle" fill="#1a1a1a" >4</text>
<text x="612.1" y="237.4" font-size="10.6" text-anchor="middle" fill="#1a1a1a" >8</text>
<text x="628.45" y="237.4" font-size="10.6" text-anchor="middle" fill="#1a1a1a" >12</text>
<text x="644.8" y="237.4" font-size="10.6" text-anchor="middle" fill="#1a1a1a" >16</text>
<text x="661.15" y="237.4" font-size="10.6" text-anchor="middle" fill="#1a1a1a" >20</text>
<text x="677.5" y="237.4" font-size="10.6" text-anchor="middle" fill="#1a1a1a" >24</text>
<text x="563.6" y="255.1" font-size="12" text-anchor="start" fill="#1a1a1a" textLength="120.4" lengthAdjust="spacingAndGlyphs" >Density of States (a.u.)</text>
<text transform="translate(402.6,113) rotate(-90)" x="0" y="0" font-size="11.5" text-anchor="middle" fill="#1a1a1a" textLength="63.2" lengthAdjust="spacingAndGlyphs">Energy (eV)</text>
<text x="-0.3" y="281.8" font-size="16.5" text-anchor="start" fill="#1a1a1a" >(c)</text>
<path d="M47.5,276.4 H210.7 V477.4 H47.5 Z" fill="none" stroke="#222" stroke-width="1.2"/>
<g stroke="#222" stroke-width="1"><line x1="45.5" y1="477.1" x2="47.5" y2="477.1"/><line x1="44.1" y1="461.7" x2="47.5" y2="461.7"/><line x1="45.5" y1="446.3" x2="47.5" y2="446.3"/><line x1="44.1" y1="430.9" x2="47.5" y2="430.9"/><line x1="45.5" y1="415.5" x2="47.5" y2="415.5"/><line x1="44.1" y1="400.1" x2="47.5" y2="400.1"/><line x1="45.5" y1="384.7" x2="47.5" y2="384.7"/><line x1="44.1" y1="369.3" x2="47.5" y2="369.3"/><line x1="45.5" y1="353.9" x2="47.5" y2="353.9"/><line x1="44.1" y1="338.5" x2="47.5" y2="338.5"/><line x1="45.5" y1="323.1" x2="47.5" y2="323.1"/><line x1="44.1" y1="307.7" x2="47.5" y2="307.7"/><line x1="45.5" y1="292.3" x2="47.5" y2="292.3"/><line x1="44.1" y1="276.9" x2="47.5" y2="276.9"/><line x1="47.5" y1="477.4" x2="47.5" y2="480.8"/><line x1="61.09" y1="477.4" x2="61.09" y2="479.4"/><line x1="74.68" y1="477.4" x2="74.68" y2="480.8"/><line x1="88.27" y1="477.4" x2="88.27" y2="479.4"/><line x1="101.87" y1="477.4" x2="101.87" y2="480.8"/><line x1="115.46" y1="477.4" x2="115.46" y2="479.4"/><line x1="129.05" y1="477.4" x2="129.05" y2="480.8"/><line x1="142.64" y1="477.4" x2="142.64" y2="479.4"/><line x1="156.23" y1="477.4" x2="156.23" y2="480.8"/><line x1="169.82" y1="477.4" x2="169.82" y2="479.4"/><line x1="183.41" y1="477.4" x2="183.41" y2="480.8"/><line x1="197.01" y1="477.4" x2="197.01" y2="479.4"/><line x1="210.6" y1="477.4" x2="210.6" y2="480.8"/></g>
<text x="41.2" y="465.2" font-size="10.2" text-anchor="end" fill="#1a1a1a" >0.0</text>
<text x="41.2" y="434.4" font-size="10.2" text-anchor="end" fill="#1a1a1a" >0.1</text>
<text x="41.2" y="403.6" font-size="10.2" text-anchor="end" fill="#1a1a1a" >0.2</text>
<text x="41.2" y="372.8" font-size="10.2" text-anchor="end" fill="#1a1a1a" >0.3</text>
<text x="41.2" y="342" font-size="10.2" text-anchor="end" fill="#1a1a1a" >0.4</text>
<text x="41.2" y="311.2" font-size="10.2" text-anchor="end" fill="#1a1a1a" >0.5</text>
<text x="41.2" y="280.4" font-size="10.2" text-anchor="end" fill="#1a1a1a" >0.6</text>
<text x="47.5" y="491.1" font-size="10.2" text-anchor="middle" fill="#1a1a1a" >0</text>
<text x="74.68" y="491.1" font-size="10.2" text-anchor="middle" fill="#1a1a1a" >30</text>
<text x="101.87" y="491.1" font-size="10.2" text-anchor="middle" fill="#1a1a1a" >60</text>
<text x="129.05" y="491.1" font-size="10.2" text-anchor="middle" fill="#1a1a1a" >90</text>
<text x="156.23" y="491.1" font-size="10.2" text-anchor="middle" fill="#1a1a1a" >120</text>
<text x="183.41" y="491.1" font-size="10.2" text-anchor="middle" fill="#1a1a1a" >150</text>
<text x="210.6" y="491.1" font-size="10.2" text-anchor="middle" fill="#1a1a1a" >180</text>
<text x="101.5" y="509.6" font-size="12.5" fill="#1a1a1a" font-family="Liberation Serif, serif" font-weight="bold" font-style="italic">θ</text>
<text x="111.2" y="509.2" font-size="11" text-anchor="start" fill="#1a1a1a" textLength="45" lengthAdjust="spacingAndGlyphs" >(degree)</text>
<text transform="translate(16.8,377.2) rotate(-90)" x="0" y="0" font-size="11" text-anchor="middle" fill="#1a1a1a" textLength="83.8" lengthAdjust="spacingAndGlyphs">MAE (meV/u.c.)</text>
<polyline points="47.5,300 56.56,304.88 65.62,318.92 74.68,340.42 83.74,366.81 92.81,394.89 101.87,421.27 110.93,442.78 119.99,456.82 129.05,461.7 138.11,456.82 147.17,442.78 156.23,421.28 165.29,394.89 174.35,366.81 183.41,340.42 192.48,318.92 201.54,304.88 210.6,300" fill="none" stroke="#b8dcf8" stroke-width="1.1"/>
<polyline points="47.5,300 56.56,304.88 65.62,318.92 74.68,340.42 83.74,366.81 92.81,394.89 101.87,421.27 110.93,442.78 119.99,456.82 129.05,461.7 138.11,456.82 147.17,442.78 156.23,421.28 165.29,394.89 174.35,366.81 183.41,340.42 192.48,318.92 201.54,304.88 210.6,300" fill="none" stroke="#c88cf6" stroke-width="0.9" stroke-dasharray="2.5,4"/>
<rect x="45.9" y="298.4" width="3.2" height="3.2" fill="#d49af8"/><rect x="54.96" y="303.28" width="3.2" height="3.2" fill="#d49af8"/><rect x="64.02" y="317.32" width="3.2" height="3.2" fill="#d49af8"/><rect x="73.08" y="338.82" width="3.2" height="3.2" fill="#d49af8"/><rect x="82.14" y="365.21" width="3.2" height="3.2" fill="#d49af8"/><rect x="91.21" y="393.29" width="3.2" height="3.2" fill="#d49af8"/><rect x="100.27" y="419.67" width="3.2" height="3.2" fill="#d49af8"/><rect x="109.33" y="441.18" width="3.2" height="3.2" fill="#d49af8"/><rect x="118.39" y="455.22" width="3.2" height="3.2" fill="#d49af8"/><rect x="127.45" y="460.1" width="3.2" height="3.2" fill="#d49af8"/><rect x="136.51" y="455.22" width="3.2" height="3.2" fill="#d49af8"/><rect x="145.57" y="441.18" width="3.2" height="3.2" fill="#d49af8"/><rect x="154.63" y="419.68" width="3.2" height="3.2" fill="#d49af8"/><rect x="163.69" y="393.29" width="3.2" height="3.2" fill="#d49af8"/><rect x="172.75" y="365.21" width="3.2" height="3.2" fill="#d49af8"/><rect x="181.81" y="338.82" width="3.2" height="3.2" fill="#d49af8"/><rect x="190.88" y="317.32" width="3.2" height="3.2" fill="#d49af8"/><rect x="199.94" y="303.28" width="3.2" height="3.2" fill="#d49af8"/><rect x="209" y="298.4" width="3.2" height="3.2" fill="#d49af8"/>
<circle cx="47.5" cy="300" r="2.5" fill="none" stroke="#a6cdf6" stroke-width="0.9"/><circle cx="56.56" cy="304.88" r="2.5" fill="none" stroke="#a6cdf6" stroke-width="0.9"/><circle cx="65.62" cy="318.92" r="2.5" fill="none" stroke="#a6cdf6" stroke-width="0.9"/><circle cx="74.68" cy="340.42" r="2.5" fill="none" stroke="#a6cdf6" stroke-width="0.9"/><circle cx="83.74" cy="366.81" r="2.5" fill="none" stroke="#a6cdf6" stroke-width="0.9"/><circle cx="92.81" cy="394.89" r="2.5" fill="none" stroke="#a6cdf6" stroke-width="0.9"/><circle cx="101.87" cy="421.27" r="2.5" fill="none" stroke="#a6cdf6" stroke-width="0.9"/><circle cx="110.93" cy="442.78" r="2.5" fill="none" stroke="#a6cdf6" stroke-width="0.9"/><circle cx="119.99" cy="456.82" r="2.5" fill="none" stroke="#a6cdf6" stroke-width="0.9"/><circle cx="129.05" cy="461.7" r="2.5" fill="none" stroke="#a6cdf6" stroke-width="0.9"/><circle cx="138.11" cy="456.82" r="2.5" fill="none" stroke="#a6cdf6" stroke-width="0.9"/><circle cx="147.17" cy="442.78" r="2.5" fill="none" stroke="#a6cdf6" stroke-width="0.9"/><circle cx="156.23" cy="421.28" r="2.5" fill="none" stroke="#a6cdf6" stroke-width="0.9"/><circle cx="165.29" cy="394.89" r="2.5" fill="none" stroke="#a6cdf6" stroke-width="0.9"/><circle cx="174.35" cy="366.81" r="2.5" fill="none" stroke="#a6cdf6" stroke-width="0.9"/><circle cx="183.41" cy="340.42" r="2.5" fill="none" stroke="#a6cdf6" stroke-width="0.9"/><circle cx="192.48" cy="318.92" r="2.5" fill="none" stroke="#a6cdf6" stroke-width="0.9"/><circle cx="201.54" cy="304.88" r="2.5" fill="none" stroke="#a6cdf6" stroke-width="0.9"/><circle cx="210.6" cy="300" r="2.5" fill="none" stroke="#a6cdf6" stroke-width="0.9"/>
<line x1="47.5" y1="461.7" x2="210.7" y2="461.7" stroke="#f2a2aa" stroke-width="1"/>
<circle cx="47.5" cy="461.7" r="2.2" fill="#fff" stroke="#f09aa4" stroke-width="1"/><line x1="48.4" y1="459.9" x2="48.4" y2="463.5" stroke="#f09aa4" stroke-width="0.9"/><circle cx="56.56" cy="461.7" r="2.2" fill="#fff" stroke="#f09aa4" stroke-width="1"/><line x1="57.46" y1="459.9" x2="57.46" y2="463.5" stroke="#f09aa4" stroke-width="0.9"/><circle cx="65.62" cy="461.7" r="2.2" fill="#fff" stroke="#f09aa4" stroke-width="1"/><line x1="66.52" y1="459.9" x2="66.52" y2="463.5" stroke="#f09aa4" stroke-width="0.9"/><circle cx="74.68" cy="461.7" r="2.2" fill="#fff" stroke="#f09aa4" stroke-width="1"/><line x1="75.58" y1="459.9" x2="75.58" y2="463.5" stroke="#f09aa4" stroke-width="0.9"/><circle cx="83.74" cy="461.7" r="2.2" fill="#fff" stroke="#f09aa4" stroke-width="1"/><line x1="84.64" y1="459.9" x2="84.64" y2="463.5" stroke="#f09aa4" stroke-width="0.9"/><circle cx="92.81" cy="461.7" r="2.2" fill="#fff" stroke="#f09aa4" stroke-width="1"/><line x1="93.71" y1="459.9" x2="93.71" y2="463.5" stroke="#f09aa4" stroke-width="0.9"/><circle cx="101.87" cy="461.7" r="2.2" fill="#fff" stroke="#f09aa4" stroke-width="1"/><line x1="102.77" y1="459.9" x2="102.77" y2="463.5" stroke="#f09aa4" stroke-width="0.9"/><circle cx="110.93" cy="461.7" r="2.2" fill="#fff" stroke="#f09aa4" stroke-width="1"/><line x1="111.83" y1="459.9" x2="111.83" y2="463.5" stroke="#f09aa4" stroke-width="0.9"/><circle cx="119.99" cy="461.7" r="2.2" fill="#fff" stroke="#f09aa4" stroke-width="1"/><line x1="120.89" y1="459.9" x2="120.89" y2="463.5" stroke="#f09aa4" stroke-width="0.9"/><circle cx="129.05" cy="461.7" r="2.2" fill="#fff" stroke="#f09aa4" stroke-width="1"/><line x1="129.95" y1="459.9" x2="129.95" y2="463.5" stroke="#f09aa4" stroke-width="0.9"/><circle cx="138.11" cy="461.7" r="2.2" fill="#fff" stroke="#f09aa4" stroke-width="1"/><line x1="139.01" y1="459.9" x2="139.01" y2="463.5" stroke="#f09aa4" stroke-width="0.9"/><circle cx="147.17" cy="461.7" r="2.2" fill="#fff" stroke="#f09aa4" stroke-width="1"/><line x1="148.07" y1="459.9" x2="148.07" y2="463.5" stroke="#f09aa4" stroke-width="0.9"/><circle cx="156.23" cy="461.7" r="2.2" fill="#fff" stroke="#f09aa4" stroke-width="1"/><line x1="157.13" y1="459.9" x2="157.13" y2="463.5" stroke="#f09aa4" stroke-width="0.9"/><circle cx="165.29" cy="461.7" r="2.2" fill="#fff" stroke="#f09aa4" stroke-width="1"/><line x1="166.19" y1="459.9" x2="166.19" y2="463.5" stroke="#f09aa4" stroke-width="0.9"/><circle cx="174.35" cy="461.7" r="2.2" fill="#fff" stroke="#f09aa4" stroke-width="1"/><line x1="175.25" y1="459.9" x2="175.25" y2="463.5" stroke="#f09aa4" stroke-width="0.9"/><circle cx="183.41" cy="461.7" r="2.2" fill="#fff" stroke="#f09aa4" stroke-width="1"/><line x1="184.31" y1="459.9" x2="184.31" y2="463.5" stroke="#f09aa4" stroke-width="0.9"/><circle cx="192.48" cy="461.7" r="2.2" fill="#fff" stroke="#f09aa4" stroke-width="1"/><line x1="193.38" y1="459.9" x2="193.38" y2="463.5" stroke="#f09aa4" stroke-width="0.9"/><circle cx="201.54" cy="461.7" r="2.2" fill="#fff" stroke="#f09aa4" stroke-width="1"/><line x1="202.44" y1="459.9" x2="202.44" y2="463.5" stroke="#f09aa4" stroke-width="0.9"/><circle cx="210.6" cy="461.7" r="2.2" fill="#fff" stroke="#f09aa4" stroke-width="1"/><line x1="211.5" y1="459.9" x2="211.5" y2="463.5" stroke="#f09aa4" stroke-width="0.9"/>
<line x1="97.2" y1="306.8" x2="118.6" y2="306.8" stroke="#f2a2aa" stroke-width="1.2"/>
<circle cx="108.1" cy="306.8" r="2.2" fill="#fff" stroke="#f09aa4" stroke-width="1"/><line x1="109" y1="305" x2="109" y2="308.6" stroke="#f09aa4" stroke-width="0.9"/>
<line x1="97.2" y1="325.6" x2="118.6" y2="325.6" stroke="#cc9af8" stroke-width="1.2"/>
<rect x="106.5" y="324" width="3.2" height="3.2" fill="#d49af8"/>
<line x1="97.2" y1="344.7" x2="104.8" y2="344.7" stroke="#bfe0f8" stroke-width="1.2"/><line x1="111.4" y1="344.7" x2="117.6" y2="344.7" stroke="#bfe0f8" stroke-width="1.2"/>
<circle cx="108.1" cy="344.7" r="2.8" fill="#fff" stroke="#9ec9f2" stroke-width="1"/>
<text x="121.3" y="311.1" font-size="10" fill="#1a1a1a" textLength="39.7" lengthAdjust="spacingAndGlyphs"><tspan font-style="italic">xoy</tspan> plane</text>
<text x="121.3" y="329.9" font-size="10" fill="#1a1a1a" textLength="39.7" lengthAdjust="spacingAndGlyphs"><tspan font-style="italic">xoz</tspan> plane</text>
<text x="121.3" y="349" font-size="10" fill="#1a1a1a" textLength="39.7" lengthAdjust="spacingAndGlyphs"><tspan font-style="italic">yoz</tspan> plane</text>
<g stroke="#222" stroke-width="0.7"><line x1="181.1" y1="437.8" x2="181.1" y2="404.5" marker-end="url(#ah)"/><line x1="181.1" y1="437.8" x2="204" y2="437.8" marker-end="url(#ah)"/><line x1="181.1" y1="437.8" x2="164.5" y2="452" marker-end="url(#ah)"/></g>
<g stroke="#a848f4" stroke-width="0.8" stroke-dasharray="1.6,1.2" fill="none"><line x1="181.1" y1="437.8" x2="168" y2="424.5"/><line x1="181.1" y1="437.8" x2="194.5" y2="425.3"/><line x1="181.1" y1="437.8" x2="194" y2="447.5"/></g>
<g stroke="#666" stroke-width="0.5" fill="none"><path d="M178.4,436.6 A3,3 0 0 1 184,436.4"/><path d="M178.6,439.4 A3,3 0 0 0 184,439.6"/></g>
<text x="184.6" y="404.2" font-size="11.5" font-style="italic" fill="#1a1a1a">z</text>
<text x="201.9" y="429.6" font-size="11.5" font-style="italic" fill="#1a1a1a">y</text>
<text x="162.8" y="443.4" font-size="11.5" font-style="italic" fill="#1a1a1a">x</text>
<text x="166.6" y="421.6" font-size="13" fill="#9330f2" font-family="Liberation Serif, serif" font-weight="bold" font-style="italic">θ<tspan font-size="8" dy="2.2">xz</tspan></text>
<text x="183.2" y="424.4" font-size="13" fill="#9330f2" font-family="Liberation Serif, serif" font-weight="bold" font-style="italic">θ<tspan font-size="8" dy="2.2">yz</tspan></text>
<text x="178.4" y="451.4" font-size="13" fill="#9330f2" font-family="Liberation Serif, serif" font-weight="bold" font-style="italic">θ<tspan font-size="8" dy="2.2">xy</tspan></text>
<text x="227" y="283.3" font-size="16.5" text-anchor="start" fill="#1a1a1a" >(e)</text>
<path d="M288.2,277.2 H456.8 V480.2 H288.2 Z" fill="none" stroke="#222" stroke-width="1.2"/>
<g stroke="#222" stroke-width="1"><line x1="284.6" y1="480.2" x2="288.2" y2="480.2"/><line x1="286" y1="459.9" x2="288.2" y2="459.9"/><line x1="284.6" y1="439.6" x2="288.2" y2="439.6"/><line x1="286" y1="419.3" x2="288.2" y2="419.3"/><line x1="284.6" y1="399" x2="288.2" y2="399"/><line x1="286" y1="378.7" x2="288.2" y2="378.7"/><line x1="284.6" y1="358.4" x2="288.2" y2="358.4"/><line x1="286" y1="338.1" x2="288.2" y2="338.1"/><line x1="284.6" y1="317.8" x2="288.2" y2="317.8"/><line x1="286" y1="297.5" x2="288.2" y2="297.5"/><line x1="284.6" y1="277.2" x2="288.2" y2="277.2"/><line x1="298.1" y1="480.2" x2="298.1" y2="482.4"/><line x1="317.9" y1="480.2" x2="317.9" y2="483.8"/><line x1="337.7" y1="480.2" x2="337.7" y2="482.4"/><line x1="357.5" y1="480.2" x2="357.5" y2="483.8"/><line x1="377.3" y1="480.2" x2="377.3" y2="482.4"/><line x1="397.1" y1="480.2" x2="397.1" y2="483.8"/><line x1="416.9" y1="480.2" x2="416.9" y2="482.4"/><line x1="436.7" y1="480.2" x2="436.7" y2="483.8"/><line x1="456.5" y1="480.2" x2="456.5" y2="482.4"/></g>
<text x="281.4" y="483.3" font-size="10.2" text-anchor="end" fill="#1a1a1a" textLength="13.9" lengthAdjust="spacingAndGlyphs" >0.0</text>
<text x="281.4" y="442.7" font-size="10.2" text-anchor="end" fill="#1a1a1a" textLength="13.9" lengthAdjust="spacingAndGlyphs" >0.5</text>
<text x="281.4" y="402.1" font-size="10.2" text-anchor="end" fill="#1a1a1a" textLength="13.9" lengthAdjust="spacingAndGlyphs" >1.0</text>
<text x="281.4" y="361.5" font-size="10.2" text-anchor="end" fill="#1a1a1a" textLength="13.9" lengthAdjust="spacingAndGlyphs" >1.5</text>
<text x="281.4" y="320.9" font-size="10.2" text-anchor="end" fill="#1a1a1a" textLength="13.9" lengthAdjust="spacingAndGlyphs" >2.0</text>
<text x="281.4" y="280.3" font-size="10.2" text-anchor="end" fill="#1a1a1a" textLength="13.9" lengthAdjust="spacingAndGlyphs" >2.5</text>
<text x="317.9" y="496.3" font-size="10" text-anchor="middle" fill="#1a1a1a" >0.4</text>
<text x="357.5" y="496.3" font-size="10" text-anchor="middle" fill="#1a1a1a" >0.8</text>
<text x="397.1" y="496.3" font-size="10" text-anchor="middle" fill="#1a1a1a" >1.2</text>
<text x="436.7" y="496.3" font-size="10" text-anchor="middle" fill="#1a1a1a" >1.6</text>
<text x="342.4" y="509.2" font-size="11.4" text-anchor="start" fill="#1a1a1a" textLength="59.6" lengthAdjust="spacingAndGlyphs" >Energy (eV)</text>
<text transform="translate(255.2,378.8) rotate(-90)" x="0" y="0" font-size="11" text-anchor="middle" fill="#1a1a1a" textLength="187.5" lengthAdjust="spacingAndGlyphs">Imaginary parts of dielectric functions</text>
<g clip-path="url(#clipE)"><polyline points="288.6,479.4 294.53,479.4 300.46,479.4 306.39,479.1 312.32,478.5 318.25,473.4 324.18,459.8 330.11,435.6 336.04,404 341.97,376.2 347.9,359.3 353.83,352.6 359.76,352.6 365.69,359.3 371.62,376.2 377.55,400.3 383.48,419.3 389.41,421.2 395.34,404.9 401.27,378.2 407.2,351.3 413.13,330.3 419.06,316.9 424.99,309.6 430.92,309 436.85,312.8 442.78,322.7 448.71,336.7 454.64,354.3 456.4,360.2" fill="none" stroke="#9ef4f8" stroke-width="0.8"/><polyline points="288.6,479.4 294.53,479.4 300.46,479.4 306.39,479.1 312.32,478.5 318.25,473.4 324.18,459.8 330.11,435.6 336.04,404 341.97,376.2 347.9,359.3 353.83,352.6 359.76,352.6 365.69,359.3 371.62,376.2 377.55,400.3 383.48,419.3 389.41,421.2 395.34,404.9 401.27,378.2 407.2,351.3 413.13,330.3 419.06,316.9 424.99,309.6 430.92,309 436.85,312.8 442.78,322.7 448.71,336.7 454.64,354.3 456.4,360.2" fill="none" stroke="#f0a0a4" stroke-width="0.6" stroke-dasharray="2,1.5"/><circle cx="288.6" cy="479.4" r="3.7" fill="#8af2f8"/><circle cx="294.53" cy="479.4" r="3.7" fill="#8af2f8"/><circle cx="300.46" cy="479.4" r="3.7" fill="#8af2f8"/><circle cx="306.39" cy="479.1" r="3.7" fill="#8af2f8"/><circle cx="312.32" cy="478.5" r="3.7" fill="#8af2f8"/><circle cx="318.25" cy="473.4" r="3.7" fill="#8af2f8"/><circle cx="324.18" cy="459.8" r="3.7" fill="#8af2f8"/><circle cx="330.11" cy="435.6" r="3.7" fill="#8af2f8"/><circle cx="336.04" cy="404" r="3.7" fill="#8af2f8"/><circle cx="341.97" cy="376.2" r="3.7" fill="#8af2f8"/><circle cx="347.9" cy="359.3" r="3.7" fill="#8af2f8"/><circle cx="353.83" cy="352.6" r="3.7" fill="#8af2f8"/><circle cx="359.76" cy="352.6" r="3.7" fill="#8af2f8"/><circle cx="365.69" cy="359.3" r="3.7" fill="#8af2f8"/><circle cx="371.62" cy="376.2" r="3.7" fill="#8af2f8"/><circle cx="377.55" cy="400.3" r="3.7" fill="#8af2f8"/><circle cx="383.48" cy="419.3" r="3.7" fill="#8af2f8"/><circle cx="389.41" cy="421.2" r="3.7" fill="#8af2f8"/><circle cx="395.34" cy="404.9" r="3.7" fill="#8af2f8"/><circle cx="401.27" cy="378.2" r="3.7" fill="#8af2f8"/><circle cx="407.2" cy="351.3" r="3.7" fill="#8af2f8"/><circle cx="413.13" cy="330.3" r="3.7" fill="#8af2f8"/><circle cx="419.06" cy="316.9" r="3.7" fill="#8af2f8"/><circle cx="424.99" cy="309.6" r="3.7" fill="#8af2f8"/><circle cx="430.92" cy="309" r="3.7" fill="#8af2f8"/><circle cx="436.85" cy="312.8" r="3.7" fill="#8af2f8"/><circle cx="442.78" cy="322.7" r="3.7" fill="#8af2f8"/><circle cx="448.71" cy="336.7" r="3.7" fill="#8af2f8"/><circle cx="454.64" cy="354.3" r="3.7" fill="#8af2f8"/><circle cx="456.4" cy="360.2" r="3.7" fill="#8af2f8"/><path d="M288.6,476.6 L291.2,481.2 L286,481.2 Z" fill="none" stroke="#dc3f48" stroke-width="1.05"/><path d="M294.53,476.6 L297.13,481.2 L291.93,481.2 Z" fill="none" stroke="#dc3f48" stroke-width="1.05"/><path d="M300.46,476.6 L303.06,481.2 L297.86,481.2 Z" fill="none" stroke="#dc3f48" stroke-width="1.05"/><path d="M306.39,476.3 L308.99,480.9 L303.79,480.9 Z" fill="none" stroke="#dc3f48" stroke-width="1.05"/><path d="M312.32,475.7 L314.92,480.3 L309.72,480.3 Z" fill="none" stroke="#dc3f48" stroke-width="1.05"/><path d="M318.25,470.6 L320.85,475.2 L315.65,475.2 Z" fill="none" stroke="#dc3f48" stroke-width="1.05"/><path d="M324.18,457 L326.78,461.6 L321.58,461.6 Z" fill="none" stroke="#dc3f48" stroke-width="1.05"/><path d="M330.11,432.8 L332.71,437.4 L327.51,437.4 Z" fill="none" stroke="#dc3f48" stroke-width="1.05"/><path d="M336.04,401.2 L338.64,405.8 L333.44,405.8 Z" fill="none" stroke="#dc3f48" stroke-width="1.05"/><path d="M341.97,373.4 L344.57,378 L339.37,378 Z" fill="none" stroke="#dc3f48" stroke-width="1.05"/><path d="M347.9,356.5 L350.5,361.1 L345.3,361.1 Z" fill="none" stroke="#dc3f48" stroke-width="1.05"/><path d="M353.83,349.8 L356.43,354.4 L351.23,354.4 Z" fill="none" stroke="#dc3f48" stroke-width="1.05"/><path d="M359.76,349.8 L362.36,354.4 L357.16,354.4 Z" fill="none" stroke="#dc3f48" stroke-width="1.05"/><path d="M365.69,356.5 L368.29,361.1 L363.09,361.1 Z" fill="none" stroke="#dc3f48" stroke-width="1.05"/><path d="M371.62,373.4 L374.22,378 L369.02,378 Z" fill="none" stroke="#dc3f48" stroke-width="1.05"/><path d="M377.55,397.5 L380.15,402.1 L374.95,402.1 Z" fill="none" stroke="#dc3f48" stroke-width="1.05"/><path d="M383.48,416.5 L386.08,421.1 L380.88,421.1 Z" fill="none" stroke="#dc3f48" stroke-width="1.05"/><path d="M389.41,418.4 L392.01,423 L386.81,423 Z" fill="none" stroke="#dc3f48" stroke-width="1.05"/><path d="M395.34,402.1 L397.94,406.7 L392.74,406.7 Z" fill="none" stroke="#dc3f48" stroke-width="1.05"/><path d="M401.27,375.4 L403.87,380 L398.67,380 Z" fill="none" stroke="#dc3f48" stroke-width="1.05"/><path d="M407.2,348.5 L409.8,353.1 L404.6,353.1 Z" fill="none" stroke="#dc3f48" stroke-width="1.05"/><path d="M413.13,327.5 L415.73,332.1 L410.53,332.1 Z" fill="none" stroke="#dc3f48" stroke-width="1.05"/><path d="M419.06,314.1 L421.66,318.7 L416.46,318.7 Z" fill="none" stroke="#dc3f48" stroke-width="1.05"/><path d="M424.99,306.8 L427.59,311.4 L422.39,311.4 Z" fill="none" stroke="#dc3f48" stroke-width="1.05"/><path d="M430.92,306.2 L433.52,310.8 L428.32,310.8 Z" fill="none" stroke="#dc3f48" stroke-width="1.05"/><path d="M436.85,310 L439.45,314.6 L434.25,314.6 Z" fill="none" stroke="#dc3f48" stroke-width="1.05"/><path d="M442.78,319.9 L445.38,324.5 L440.18,324.5 Z" fill="none" stroke="#dc3f48" stroke-width="1.05"/><path d="M448.71,333.9 L451.31,338.5 L446.11,338.5 Z" fill="none" stroke="#dc3f48" stroke-width="1.05"/><path d="M454.64,351.5 L457.24,356.1 L452.04,356.1 Z" fill="none" stroke="#dc3f48" stroke-width="1.05"/><path d="M456.4,357.4 L459,362 L453.8,362 Z" fill="none" stroke="#dc3f48" stroke-width="1.05"/></g>
<rect x="301.4" y="285.3" width="60.4" height="34.2" fill="#fff" stroke="#9a9a9a" stroke-width="0.8"/>
<line x1="303" y1="293.7" x2="323.6" y2="293.7" stroke="#9ef4f8" stroke-width="1"/>
<circle cx="313.1" cy="293.7" r="3.5" fill="#84f2f8"/>
<line x1="303" y1="310.7" x2="323.6" y2="310.7" stroke="#f3b0b4" stroke-width="0.8" stroke-dasharray="1.6,1.6"/>
<path d="M313.1,307.4 L316,312.3 L310.2,312.3 Z" fill="#fff" stroke="#e8454f" stroke-width="1.1"/>
<text x="328.9" y="297.4" font-size="10" font-family="Liberation Serif, serif" font-weight="bold" fill="#1a1a1a">σ<tspan font-size="7" dy="2">+</tspan></text>
<text x="328.9" y="314.4" font-size="10" font-family="Liberation Serif, serif" font-weight="bold" fill="#1a1a1a">σ<tspan font-size="7" dy="2">−</tspan></text>
<text x="343.3" y="298.6" font-size="11" text-anchor="start" fill="#1a1a1a" >(</text>
<text x="356.2" y="298.6" font-size="11" text-anchor="start" fill="#1a1a1a" >)</text>
<line x1="349.4" y1="291.4" x2="349.4" y2="299" stroke="#222" stroke-width="0.9"/>
<path d="M347.7,293.4 L349.4,290.2 L351.1,293.4 Z" fill="#222"/>
<line x1="353.9" y1="291.4" x2="353.9" y2="299" stroke="#222" stroke-width="0.9"/>
<path d="M352.2,293.4 L353.9,290.2 L355.6,293.4 Z" fill="#222"/>
<text x="343.3" y="315.6" font-size="11" text-anchor="start" fill="#1a1a1a" >(</text>
<text x="356.2" y="315.6" font-size="11" text-anchor="start" fill="#1a1a1a" >)</text>
<line x1="349.4" y1="308.4" x2="349.4" y2="316" stroke="#222" stroke-width="0.9"/>
<path d="M347.7,310.4 L349.4,307.2 L351.1,310.4 Z" fill="#222"/>
<line x1="353.9" y1="308.4" x2="353.9" y2="316" stroke="#222" stroke-width="0.9"/>
<path d="M352.2,310.4 L353.9,307.2 L355.6,310.4 Z" fill="#222"/>
<text x="466.3" y="287.4" font-size="16.5" text-anchor="start" fill="#1a1a1a" >(f)</text>
<g clip-path="url(#clipF)" fill="#3a78b4"><rect x="496.2" y="282.2" width="179.9" height="167.4" fill="#dfdfe0"/><circle cx="582" cy="287" r="16" fill="url(#hb2)"/><circle cx="575" cy="350" r="16" fill="url(#hb2)"/><circle cx="672" cy="345" r="12" fill="url(#hb2)"/><circle cx="503" cy="450" r="14" fill="url(#hb2)"/><circle cx="585" cy="440" r="12" fill="url(#hb2)"/><circle cx="520" cy="292" r="14" fill="url(#hb2)"/><circle cx="640" cy="445" r="10" fill="url(#hb2)"/><circle cx="545" cy="395" r="10" fill="url(#hb2)"/><circle cx="501" cy="331" r="10" fill="url(#hr2)"/><circle cx="566" cy="372" r="11" fill="url(#hr2)"/><circle cx="599" cy="385" r="10" fill="url(#hr2)"/><circle cx="657" cy="318" r="12" fill="url(#hr2)"/><circle cx="664" cy="296" r="10" fill="url(#hr2)"/><circle cx="653" cy="418" r="12" fill="url(#hr2)"/><circle cx="512" cy="407" r="10" fill="url(#hr2)"/><circle cx="597" cy="284" r="12" fill="url(#hr2)"/><circle cx="675" cy="440" r="10" fill="url(#hr2)"/><circle cx="611" cy="340" r="8" fill="url(#hr2)"/><circle cx="555.9" cy="317.6" r="42" fill="url(#hr)"/><circle cx="620.9" cy="313.2" r="42" fill="url(#hb)"/><circle cx="529.8" cy="364.6" r="42" fill="url(#hb)"/><circle cx="647.5" cy="369.8" r="42" fill="url(#hr)"/><circle cx="555.9" cy="423.2" r="42" fill="url(#hr)"/><circle cx="620.9" cy="416.6" r="42" fill="url(#hb)"/><circle cx="516.7" cy="281.4" r="1.3"/><circle cx="542.77" cy="281.4" r="1.3"/><circle cx="568.84" cy="281.4" r="1.3"/><circle cx="594.91" cy="281.4" r="1.3"/><circle cx="620.98" cy="281.4" r="1.3"/><circle cx="647.05" cy="281.4" r="1.3"/><circle cx="673.12" cy="281.4" r="1.3"/><circle cx="503.6" cy="288.9" r="1.3"/><circle cx="529.67" cy="288.9" r="1.3"/><circle cx="555.74" cy="288.9" r="1.3"/><circle cx="581.81" cy="288.9" r="1.3"/><circle cx="607.88" cy="288.9" r="1.3"/><circle cx="633.95" cy="288.9" r="1.3"/><circle cx="660.02" cy="288.9" r="1.3"/><circle cx="516.7" cy="296.4" r="1.3"/><circle cx="542.77" cy="296.4" r="1.3"/><circle cx="568.84" cy="296.4" r="1.3"/><circle cx="594.91" cy="296.4" r="1.3"/><circle cx="620.98" cy="296.4" r="1.3"/><circle cx="647.05" cy="296.4" r="1.3"/><circle cx="673.12" cy="296.4" r="1.3"/><circle cx="503.6" cy="303.9" r="1.3"/><circle cx="529.67" cy="303.9" r="1.3"/><circle cx="555.74" cy="303.9" r="1.3"/><circle cx="581.81" cy="303.9" r="1.3"/><circle cx="607.88" cy="303.9" r="1.3"/><circle cx="633.95" cy="303.9" r="1.3"/><circle cx="660.02" cy="303.9" r="1.3"/><circle cx="516.7" cy="311.4" r="1.3"/><circle cx="542.77" cy="311.4" r="1.3"/><circle cx="568.84" cy="311.4" r="1.3"/><circle cx="594.91" cy="311.4" r="1.3"/><circle cx="620.98" cy="311.4" r="1.3"/><circle cx="647.05" cy="311.4" r="1.3"/><circle cx="673.12" cy="311.4" r="1.3"/><circle cx="503.6" cy="318.9" r="1.3"/><circle cx="529.67" cy="318.9" r="1.3"/><circle cx="555.74" cy="318.9" r="1.3"/><circle cx="581.81" cy="318.9" r="1.3"/><circle cx="607.88" cy="318.9" r="1.3"/><circle cx="633.95" cy="318.9" r="1.3"/><circle cx="660.02" cy="318.9" r="1.3"/><circle cx="516.7" cy="326.4" r="1.3"/><circle cx="542.77" cy="326.4" r="1.3"/><circle cx="568.84" cy="326.4" r="1.3"/><circle cx="594.91" cy="326.4" r="1.3"/><circle cx="620.98" cy="326.4" r="1.3"/><circle cx="647.05" cy="326.4" r="1.3"/><circle cx="673.12" cy="326.4" r="1.3"/><circle cx="503.6" cy="333.9" r="1.3"/><circle cx="529.67" cy="333.9" r="1.3"/><circle cx="555.74" cy="333.9" r="1.3"/><circle cx="581.81" cy="333.9" r="1.3"/><circle cx="607.88" cy="333.9" r="1.3"/><circle cx="633.95" cy="333.9" r="1.3"/><circle cx="660.02" cy="333.9" r="1.3"/><circle cx="516.7" cy="341.4" r="1.3"/><circle cx="542.77" cy="341.4" r="1.3"/><circle cx="568.84" cy="341.4" r="1.3"/><circle cx="594.91" cy="341.4" r="1.3"/><circle cx="620.98" cy="341.4" r="1.3"/><circle cx="647.05" cy="341.4" r="1.3"/><circle cx="673.12" cy="341.4" r="1.3"/><circle cx="503.6" cy="348.9" r="1.3"/><circle cx="529.67" cy="348.9" r="1.3"/><circle cx="555.74" cy="348.9" r="1.3"/><circle cx="581.81" cy="348.9" r="1.3"/><circle cx="607.88" cy="348.9" r="1.3"/><circle cx="633.95" cy="348.9" r="1.3"/><circle cx="660.02" cy="348.9" r="1.3"/><circle cx="516.7" cy="356.4" r="1.3"/><circle cx="542.77" cy="356.4" r="1.3"/><circle cx="568.84" cy="356.4" r="1.3"/><circle cx="594.91" cy="356.4" r="1.3"/><circle cx="620.98" cy="356.4" r="1.3"/><circle cx="647.05" cy="356.4" r="1.3"/><circle cx="673.12" cy="356.4" r="1.3"/><circle cx="503.6" cy="363.9" r="1.3"/><circle cx="529.67" cy="363.9" r="1.3"/><circle cx="555.74" cy="363.9" r="1.3"/><circle cx="581.81" cy="363.9" r="1.3"/><circle cx="607.88" cy="363.9" r="1.3"/><circle cx="633.95" cy="363.9" r="1.3"/><circle cx="660.02" cy="363.9" r="1.3"/><circle cx="516.7" cy="371.4" r="1.3"/><circle cx="542.77" cy="371.4" r="1.3"/><circle cx="568.84" cy="371.4" r="1.3"/><circle cx="594.91" cy="371.4" r="1.3"/><circle cx="620.98" cy="371.4" r="1.3"/><circle cx="647.05" cy="371.4" r="1.3"/><circle cx="673.12" cy="371.4" r="1.3"/><circle cx="503.6" cy="378.9" r="1.3"/><circle cx="529.67" cy="378.9" r="1.3"/><circle cx="555.74" cy="378.9" r="1.3"/><circle cx="581.81" cy="378.9" r="1.3"/><circle cx="607.88" cy="378.9" r="1.3"/><circle cx="633.95" cy="378.9" r="1.3"/><circle cx="660.02" cy="378.9" r="1.3"/><circle cx="516.7" cy="386.4" r="1.3"/><circle cx="542.77" cy="386.4" r="1.3"/><circle cx="568.84" cy="386.4" r="1.3"/><circle cx="594.91" cy="386.4" r="1.3"/><circle cx="620.98" cy="386.4" r="1.3"/><circle cx="647.05" cy="386.4" r="1.3"/><circle cx="673.12" cy="386.4" r="1.3"/><circle cx="503.6" cy="393.9" r="1.3"/><circle cx="529.67" cy="393.9" r="1.3"/><circle cx="555.74" cy="393.9" r="1.3"/><circle cx="581.81" cy="393.9" r="1.3"/><circle cx="607.88" cy="393.9" r="1.3"/><circle cx="633.95" cy="393.9" r="1.3"/><circle cx="660.02" cy="393.9" r="1.3"/><circle cx="516.7" cy="401.4" r="1.3"/><circle cx="542.77" cy="401.4" r="1.3"/><circle cx="568.84" cy="401.4" r="1.3"/><circle cx="594.91" cy="401.4" r="1.3"/><circle cx="620.98" cy="401.4" r="1.3"/><circle cx="647.05" cy="401.4" r="1.3"/><circle cx="673.12" cy="401.4" r="1.3"/><circle cx="503.6" cy="408.9" r="1.3"/><circle cx="529.67" cy="408.9" r="1.3"/><circle cx="555.74" cy="408.9" r="1.3"/><circle cx="581.81" cy="408.9" r="1.3"/><circle cx="607.88" cy="408.9" r="1.3"/><circle cx="633.95" cy="408.9" r="1.3"/><circle cx="660.02" cy="408.9" r="1.3"/><circle cx="516.7" cy="416.4" r="1.3"/><circle cx="542.77" cy="416.4" r="1.3"/><circle cx="568.84" cy="416.4" r="1.3"/><circle cx="594.91" cy="416.4" r="1.3"/><circle cx="620.98" cy="416.4" r="1.3"/><circle cx="647.05" cy="416.4" r="1.3"/><circle cx="673.12" cy="416.4" r="1.3"/><circle cx="503.6" cy="423.9" r="1.3"/><circle cx="529.67" cy="423.9" r="1.3"/><circle cx="555.74" cy="423.9" r="1.3"/><circle cx="581.81" cy="423.9" r="1.3"/><circle cx="607.88" cy="423.9" r="1.3"/><circle cx="633.95" cy="423.9" r="1.3"/><circle cx="660.02" cy="423.9" r="1.3"/><circle cx="516.7" cy="431.4" r="1.3"/><circle cx="542.77" cy="431.4" r="1.3"/><circle cx="568.84" cy="431.4" r="1.3"/><circle cx="594.91" cy="431.4" r="1.3"/><circle cx="620.98" cy="431.4" r="1.3"/><circle cx="647.05" cy="431.4" r="1.3"/><circle cx="673.12" cy="431.4" r="1.3"/><circle cx="503.6" cy="438.9" r="1.3"/><circle cx="529.67" cy="438.9" r="1.3"/><circle cx="555.74" cy="438.9" r="1.3"/><circle cx="581.81" cy="438.9" r="1.3"/><circle cx="607.88" cy="438.9" r="1.3"/><circle cx="633.95" cy="438.9" r="1.3"/><circle cx="660.02" cy="438.9" r="1.3"/><circle cx="516.7" cy="446.4" r="1.3"/><circle cx="542.77" cy="446.4" r="1.3"/><circle cx="568.84" cy="446.4" r="1.3"/><circle cx="594.91" cy="446.4" r="1.3"/><circle cx="620.98" cy="446.4" r="1.3"/><circle cx="647.05" cy="446.4" r="1.3"/><circle cx="673.12" cy="446.4" r="1.3"/></g>
<text x="501.8" y="300.4" font-size="17" font-family="Liberation Serif, serif" font-style="italic" font-weight="bold" fill="#111" textLength="10.4" lengthAdjust="spacingAndGlyphs">C</text>
<text x="516.9" y="300.4" font-size="17" font-family="Liberation Serif, serif" fill="#111">=</text>
<text x="532.6" y="300.5" font-size="17" font-family="Liberation Serif, serif" fill="#111">0</text>
<rect x="495.6" y="463" width="178.1" height="13.3" fill="url(#cbar)"/>
<line x1="495.6" y1="476.5" x2="673.7" y2="476.5" stroke="#555" stroke-width="0.9"/>
<g stroke="#555" stroke-width="0.9"><line x1="495.8" y1="476.5" x2="495.8" y2="480"/><line x1="540.7" y1="476.5" x2="540.7" y2="480"/><line x1="584.8" y1="476.5" x2="584.8" y2="480"/><line x1="629.5" y1="476.5" x2="629.5" y2="480"/><line x1="673.5" y1="476.5" x2="673.5" y2="480"/></g>
<text x="490" y="497.6" font-size="11" text-anchor="start" fill="#1a1a1a" textLength="24.2" lengthAdjust="spacingAndGlyphs" >-4.76</text>
<text x="527" y="497.6" font-size="11" text-anchor="start" fill="#1a1a1a" textLength="25.6" lengthAdjust="spacingAndGlyphs" >-2.38</text>
<text x="574" y="497.6" font-size="11" text-anchor="start" fill="#1a1a1a" textLength="21.9" lengthAdjust="spacingAndGlyphs" >0.00</text>
<text x="616.7" y="499" font-size="11" text-anchor="start" fill="#1a1a1a" textLength="21.3" lengthAdjust="spacingAndGlyphs" >2.38</text>
<text x="655.1" y="499" font-size="11" text-anchor="start" fill="#1a1a1a" textLength="21.3" lengthAdjust="spacingAndGlyphs" >4.76</text>
</svg></body></html>
